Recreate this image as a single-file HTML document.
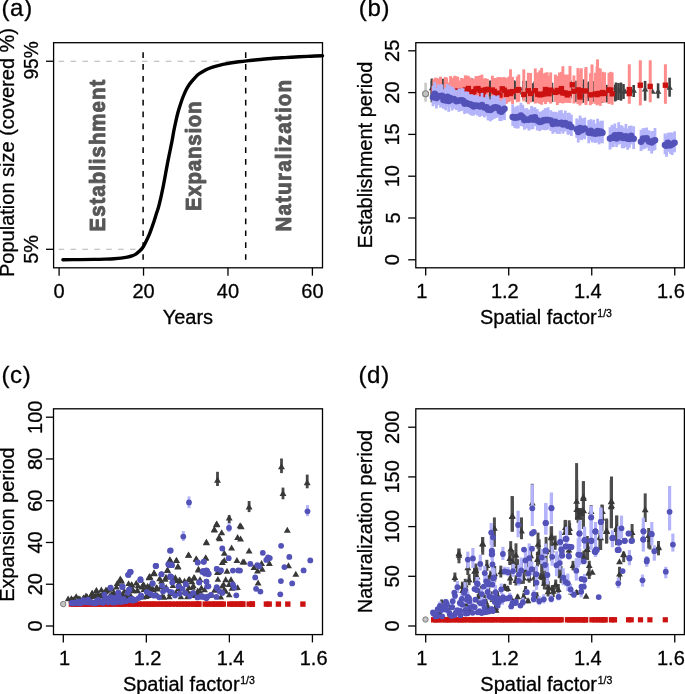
<!DOCTYPE html>
<html><head><meta charset="utf-8"><style>html,body{margin:0;padding:0;background:#fff;width:685px;height:694px;overflow:hidden}svg{display:block;will-change:transform}text{font-family:"Liberation Sans",sans-serif}</style></head>
<body><svg width="685" height="694" viewBox="0 0 685 694" font-family="Liberation Sans, sans-serif"><line x1="58.6" y1="61.26" x2="245.07" y2="61.26" stroke="#b4b4b4" stroke-width="1.1" stroke-linecap="butt" stroke-dasharray="5.6 6.3"/>
<line x1="58.6" y1="249.3" x2="143.11" y2="249.3" stroke="#b4b4b4" stroke-width="1.1" stroke-linecap="butt" stroke-dasharray="5.6 6.3"/>
<line x1="143.11" y1="52.2" x2="143.11" y2="260.2" stroke="#000" stroke-width="1.5" stroke-linecap="butt" stroke-dasharray="5.7 6.18"/>
<line x1="245.7" y1="52.2" x2="245.7" y2="260.2" stroke="#000" stroke-width="1.5" stroke-linecap="butt" stroke-dasharray="5.7 6.18"/>
<path d="M62.9,259.7 C65.75,259.68 74.75,259.65 80,259.6 C85.25,259.55 90.23,259.48 94.4,259.4 C98.57,259.32 101.72,259.22 105,259.1 C108.28,258.98 111.43,258.87 114.1,258.7 C116.77,258.53 118.8,258.37 121,258.1 C123.2,257.83 125.47,257.47 127.3,257.1 C129.13,256.73 130.63,256.35 132,255.9 C133.37,255.45 134.33,255.12 135.5,254.4 C136.67,253.68 137.82,252.7 139,251.6 C140.18,250.5 141.43,249.48 142.6,247.8 C143.77,246.12 144.92,243.65 146,241.5 C147.08,239.35 148.15,237.15 149.1,234.9 C150.05,232.65 150.85,230.35 151.7,228 C152.55,225.65 153.37,223.33 154.2,220.8 C155.03,218.27 155.87,215.48 156.7,212.8 C157.53,210.12 158.12,209.08 159.2,204.7 C160.28,200.32 161.85,193.22 163.2,186.5 C164.55,179.78 166.2,170.15 167.3,164.4 C168.4,158.65 169,155.97 169.8,152 C170.6,148.03 171.43,144.1 172.1,140.6 C172.77,137.1 173.18,134.18 173.8,131 C174.42,127.82 175.13,124.5 175.8,121.5 C176.47,118.5 177.12,115.58 177.8,113 C178.48,110.42 179.03,108.67 179.9,106 C180.77,103.33 181.93,99.77 183,97 C184.07,94.23 185.22,91.53 186.3,89.4 C187.38,87.27 188.42,85.73 189.5,84.2 C190.58,82.67 191.72,81.47 192.8,80.2 C193.88,78.93 194.9,77.68 196,76.6 C197.1,75.52 197.73,74.85 199.4,73.7 C201.07,72.55 203.8,70.8 206,69.7 C208.2,68.6 210.43,67.83 212.6,67.1 C214.77,66.37 216.82,65.85 219,65.3 C221.18,64.75 222.4,64.38 225.7,63.8 C229,63.22 234.75,62.35 238.8,61.8 C242.85,61.25 246.47,60.88 250,60.5 C253.53,60.12 256.4,59.84 260,59.5 C263.6,59.16 267.43,58.77 271.6,58.45 C275.77,58.13 280.38,57.88 285,57.6 C289.62,57.33 294.97,57.03 299.3,56.8 C303.63,56.57 307.13,56.37 311,56.2 C314.87,56.03 320.58,55.87 322.5,55.8" fill="none" stroke="#000" stroke-width="3.4" stroke-linejoin="round" stroke-linecap="round"/>
<rect x="53.6" y="42.7" width="268.9" height="225.1" fill="none" stroke="#000" stroke-width="1.3"/>
<line x1="46" y1="249.3" x2="53.6" y2="249.3" stroke="#000" stroke-width="1.3" stroke-linecap="butt"/>
<line x1="46" y1="61.26" x2="53.6" y2="61.26" stroke="#000" stroke-width="1.3" stroke-linecap="butt"/>
<line x1="59.1" y1="267.8" x2="59.1" y2="275.7" stroke="#000" stroke-width="1.3" stroke-linecap="butt"/>
<line x1="143.53" y1="267.8" x2="143.53" y2="275.7" stroke="#000" stroke-width="1.3" stroke-linecap="butt"/>
<line x1="227.97" y1="267.8" x2="227.97" y2="275.7" stroke="#000" stroke-width="1.3" stroke-linecap="butt"/>
<line x1="312.4" y1="267.8" x2="312.4" y2="275.7" stroke="#000" stroke-width="1.3" stroke-linecap="butt"/>
<text x="59.1" y="298.2" font-size="20" text-anchor="middle" font-weight="normal" fill="#000" stroke="#000" stroke-width="0.3">0</text>
<text x="143.53" y="298.2" font-size="20" text-anchor="middle" font-weight="normal" fill="#000" stroke="#000" stroke-width="0.3">20</text>
<text x="227.97" y="298.2" font-size="20" text-anchor="middle" font-weight="normal" fill="#000" stroke="#000" stroke-width="0.3">40</text>
<text x="312.4" y="298.2" font-size="20" text-anchor="middle" font-weight="normal" fill="#000" stroke="#000" stroke-width="0.3">60</text>
<text x="187.9" y="323.6" font-size="20" text-anchor="middle" font-weight="normal" fill="#000" stroke="#000" stroke-width="0.3">Years</text>
<text x="38.2" y="60.36" font-size="20" text-anchor="middle" font-weight="normal" fill="#000" transform="rotate(-90 38.2 60.36)" textLength="38.4" lengthAdjust="spacingAndGlyphs" stroke="#000" stroke-width="0.3">95%</text>
<text x="38.2" y="249.3" font-size="20" text-anchor="middle" font-weight="normal" fill="#000" transform="rotate(-90 38.2 249.3)" stroke="#000" stroke-width="0.3">5%</text>
<text x="14.4" y="152.5" font-size="20" text-anchor="middle" font-weight="normal" fill="#000" transform="rotate(-90 14.4 152.5)" stroke="#000" stroke-width="0.3">Population size (covered %)</text>
<text x="1.4" y="15.7" font-size="24" letter-spacing="0.7" stroke="#000" stroke-width="0.3">(a)</text>
<text x="0" y="0" font-size="22" font-weight="bold" fill="#575757" transform="translate(104.6 231.4) rotate(-90) scale(0.93 1)" textLength="163.01" lengthAdjust="spacing" stroke="#575757" stroke-width="0.9" stroke-linejoin="round">Establishment</text>
<text x="0" y="0" font-size="22" font-weight="bold" fill="#575757" transform="translate(200.6 210.9) rotate(-90) scale(0.93 1)" textLength="117.74" lengthAdjust="spacing" stroke="#575757" stroke-width="0.9" stroke-linejoin="round">Expansion</text>
<text x="0" y="0" font-size="22" font-weight="bold" fill="#575757" transform="translate(291.4 231.5) rotate(-90) scale(0.93 1)" textLength="163.01" lengthAdjust="spacing" stroke="#575757" stroke-width="0.9" stroke-linejoin="round">Naturalization</text>
<line x1="425.6" y1="82.7" x2="425.6" y2="101.7" stroke="#c8c8c8" stroke-width="2.6"/>
<circle cx="425.6" cy="93.7" r="3.0" fill="#c4c4c4" stroke="#808080" stroke-width="1.1"/>
<line x1="431.8" y1="78.53" x2="431.8" y2="98.49" stroke="#404040" stroke-width="2.4"/>
<line x1="435.86" y1="83.11" x2="435.86" y2="103.81" stroke="#404040" stroke-width="2.4"/>
<line x1="439.15" y1="83.07" x2="439.15" y2="101.93" stroke="#404040" stroke-width="2.4"/>
<line x1="443.24" y1="78.7" x2="443.24" y2="99.44" stroke="#404040" stroke-width="2.4"/>
<line x1="446.29" y1="79.59" x2="446.29" y2="100.4" stroke="#404040" stroke-width="2.4"/>
<line x1="450.35" y1="84.64" x2="450.35" y2="103.02" stroke="#404040" stroke-width="2.4"/>
<line x1="455.3" y1="79.57" x2="455.3" y2="101.25" stroke="#404040" stroke-width="2.4"/>
<line x1="460.03" y1="83.84" x2="460.03" y2="100.86" stroke="#404040" stroke-width="2.4"/>
<line x1="464.42" y1="80.31" x2="464.42" y2="97.22" stroke="#404040" stroke-width="2.4"/>
<line x1="467.94" y1="83.01" x2="467.94" y2="103.85" stroke="#404040" stroke-width="2.4"/>
<line x1="471.68" y1="78.4" x2="471.68" y2="99.36" stroke="#404040" stroke-width="2.4"/>
<line x1="475.01" y1="83.91" x2="475.01" y2="103.85" stroke="#404040" stroke-width="2.4"/>
<line x1="479.56" y1="80.46" x2="479.56" y2="99.75" stroke="#404040" stroke-width="2.4"/>
<line x1="483.62" y1="80.74" x2="483.62" y2="96.83" stroke="#404040" stroke-width="2.4"/>
<line x1="488.18" y1="83.88" x2="488.18" y2="103.77" stroke="#404040" stroke-width="2.4"/>
<line x1="491.84" y1="80.36" x2="491.84" y2="101.96" stroke="#404040" stroke-width="2.4"/>
<line x1="495.28" y1="79.99" x2="495.28" y2="101.22" stroke="#404040" stroke-width="2.4"/>
<line x1="499.91" y1="84.32" x2="499.91" y2="101.59" stroke="#404040" stroke-width="2.4"/>
<line x1="504.88" y1="80.63" x2="504.88" y2="98.39" stroke="#404040" stroke-width="2.4"/>
<line x1="509.58" y1="79.68" x2="509.58" y2="99.2" stroke="#404040" stroke-width="2.4"/>
<line x1="514.2" y1="80.3" x2="514.2" y2="98.81" stroke="#404040" stroke-width="2.4"/>
<line x1="518.83" y1="78.06" x2="518.83" y2="99.52" stroke="#404040" stroke-width="2.4"/>
<line x1="523.31" y1="80.75" x2="523.31" y2="99.5" stroke="#404040" stroke-width="2.4"/>
<line x1="526.76" y1="80.79" x2="526.76" y2="102.21" stroke="#404040" stroke-width="2.4"/>
<line x1="530.8" y1="79.77" x2="530.8" y2="101.28" stroke="#404040" stroke-width="2.4"/>
<line x1="534.51" y1="81.41" x2="534.51" y2="100.61" stroke="#404040" stroke-width="2.4"/>
<line x1="537.57" y1="83.08" x2="537.57" y2="99.2" stroke="#404040" stroke-width="2.4"/>
<line x1="540.63" y1="82.09" x2="540.63" y2="99.19" stroke="#404040" stroke-width="2.4"/>
<line x1="544.18" y1="77.63" x2="544.18" y2="98.42" stroke="#404040" stroke-width="2.4"/>
<line x1="547.7" y1="79.61" x2="547.7" y2="98.45" stroke="#404040" stroke-width="2.4"/>
<line x1="552.09" y1="82.68" x2="552.09" y2="102.02" stroke="#404040" stroke-width="2.4"/>
<line x1="557" y1="80.4" x2="557" y2="99.51" stroke="#404040" stroke-width="2.4"/>
<line x1="560.89" y1="80.98" x2="560.89" y2="101.69" stroke="#404040" stroke-width="2.4"/>
<line x1="565.77" y1="78.96" x2="565.77" y2="98.32" stroke="#404040" stroke-width="2.4"/>
<line x1="570.74" y1="80.66" x2="570.74" y2="98.32" stroke="#404040" stroke-width="2.4"/>
<line x1="575.65" y1="83.11" x2="575.65" y2="102.16" stroke="#404040" stroke-width="2.4"/>
<line x1="579.38" y1="81.09" x2="579.38" y2="101.65" stroke="#404040" stroke-width="2.4"/>
<line x1="582.83" y1="84.15" x2="582.83" y2="102.8" stroke="#404040" stroke-width="2.4"/>
<line x1="586.28" y1="82.16" x2="586.28" y2="101.19" stroke="#404040" stroke-width="2.4"/>
<line x1="589.67" y1="80.99" x2="589.67" y2="101.15" stroke="#404040" stroke-width="2.4"/>
<line x1="593.08" y1="81.11" x2="593.08" y2="100.31" stroke="#404040" stroke-width="2.4"/>
<line x1="597.33" y1="80.04" x2="597.33" y2="101.69" stroke="#404040" stroke-width="2.4"/>
<line x1="602.13" y1="81.57" x2="602.13" y2="102.82" stroke="#404040" stroke-width="2.4"/>
<line x1="606.81" y1="84.87" x2="606.81" y2="102.43" stroke="#404040" stroke-width="2.4"/>
<line x1="610.77" y1="80.53" x2="610.77" y2="102.19" stroke="#404040" stroke-width="2.4"/>
<line x1="615.08" y1="84.63" x2="615.08" y2="101.45" stroke="#404040" stroke-width="2.4"/>
<line x1="442.84" y1="82.48" x2="442.84" y2="98.73" stroke="#404040" stroke-width="2.2"/>
<line x1="489.93" y1="80.54" x2="489.93" y2="102.27" stroke="#404040" stroke-width="2.2"/>
<line x1="514.93" y1="81.22" x2="514.93" y2="99.44" stroke="#404040" stroke-width="2.2"/>
<line x1="532.94" y1="83.22" x2="532.94" y2="101.76" stroke="#404040" stroke-width="2.2"/>
<line x1="576.11" y1="80.66" x2="576.11" y2="99.08" stroke="#404040" stroke-width="2.2"/>
<line x1="583.52" y1="79.39" x2="583.52" y2="97.35" stroke="#404040" stroke-width="2.2"/>
<line x1="588.05" y1="82.69" x2="588.05" y2="99.09" stroke="#404040" stroke-width="2.2"/>
<line x1="592.91" y1="82.79" x2="592.91" y2="101.99" stroke="#404040" stroke-width="2.2"/>
<path d="M428.8,90.36L434.8,90.36L431.8,85.16Z" fill="#404040"/>
<path d="M432.86,91.33L438.86,91.33L435.86,86.13Z" fill="#404040"/>
<path d="M436.15,89.97L442.15,89.97L439.15,84.77Z" fill="#404040"/>
<path d="M440.24,94.41L446.24,94.41L443.24,89.21Z" fill="#404040"/>
<path d="M443.29,91.35L449.29,91.35L446.29,86.16Z" fill="#404040"/>
<path d="M447.35,90.51L453.35,90.51L450.35,85.31Z" fill="#404040"/>
<path d="M452.3,92.27L458.3,92.27L455.3,87.07Z" fill="#404040"/>
<path d="M457.03,95.2L463.03,95.2L460.03,90Z" fill="#404040"/>
<path d="M461.42,94.65L467.42,94.65L464.42,89.45Z" fill="#404040"/>
<path d="M464.94,91.28L470.94,91.28L467.94,86.09Z" fill="#404040"/>
<path d="M468.68,90.63L474.68,90.63L471.68,85.43Z" fill="#404040"/>
<path d="M472.01,95.25L478.01,95.25L475.01,90.05Z" fill="#404040"/>
<path d="M476.56,93.16L482.56,93.16L479.56,87.96Z" fill="#404040"/>
<path d="M480.62,93.93L486.62,93.93L483.62,88.74Z" fill="#404040"/>
<path d="M485.18,90.27L491.18,90.27L488.18,85.07Z" fill="#404040"/>
<path d="M488.84,90.08L494.84,90.08L491.84,84.88Z" fill="#404040"/>
<path d="M492.28,93.86L498.28,93.86L495.28,88.67Z" fill="#404040"/>
<path d="M496.91,92.28L502.91,92.28L499.91,87.09Z" fill="#404040"/>
<path d="M501.88,90.17L507.88,90.17L504.88,84.97Z" fill="#404040"/>
<path d="M506.58,95.36L512.58,95.36L509.58,90.17Z" fill="#404040"/>
<path d="M511.2,93.54L517.2,93.54L514.2,88.34Z" fill="#404040"/>
<path d="M515.83,94.54L521.83,94.54L518.83,89.35Z" fill="#404040"/>
<path d="M520.31,90.23L526.31,90.23L523.31,85.04Z" fill="#404040"/>
<path d="M523.76,94.87L529.76,94.87L526.76,89.67Z" fill="#404040"/>
<path d="M527.8,90.13L533.8,90.13L530.8,84.94Z" fill="#404040"/>
<path d="M531.51,94.91L537.51,94.91L534.51,89.71Z" fill="#404040"/>
<path d="M534.57,92.45L540.57,92.45L537.57,87.26Z" fill="#404040"/>
<path d="M537.63,91.77L543.63,91.77L540.63,86.57Z" fill="#404040"/>
<path d="M541.18,93.05L547.18,93.05L544.18,87.85Z" fill="#404040"/>
<path d="M544.7,95.29L550.7,95.29L547.7,90.1Z" fill="#404040"/>
<path d="M549.09,91.34L555.09,91.34L552.09,86.14Z" fill="#404040"/>
<path d="M554,90.51L560,90.51L557,85.31Z" fill="#404040"/>
<path d="M557.89,92.89L563.89,92.89L560.89,87.7Z" fill="#404040"/>
<path d="M562.77,91.16L568.77,91.16L565.77,85.97Z" fill="#404040"/>
<path d="M567.74,90.39L573.74,90.39L570.74,85.19Z" fill="#404040"/>
<path d="M572.65,90.7L578.65,90.7L575.65,85.5Z" fill="#404040"/>
<path d="M576.38,90.03L582.38,90.03L579.38,84.84Z" fill="#404040"/>
<path d="M579.83,90.94L585.83,90.94L582.83,85.75Z" fill="#404040"/>
<path d="M583.28,91.6L589.28,91.6L586.28,86.41Z" fill="#404040"/>
<path d="M586.67,91.56L592.67,91.56L589.67,86.37Z" fill="#404040"/>
<path d="M590.08,94.29L596.08,94.29L593.08,89.09Z" fill="#404040"/>
<path d="M594.33,91.47L600.33,91.47L597.33,86.28Z" fill="#404040"/>
<path d="M599.13,92.73L605.13,92.73L602.13,87.54Z" fill="#404040"/>
<path d="M603.81,90.8L609.81,90.8L606.81,85.6Z" fill="#404040"/>
<path d="M607.77,91.81L613.77,91.81L610.77,86.62Z" fill="#404040"/>
<path d="M612.08,89.84L618.08,89.84L615.08,84.64Z" fill="#404040"/>
<line x1="431.9" y1="81" x2="431.9" y2="102.3" stroke="#404040" stroke-width="2.6"/>
<line x1="564.4" y1="82" x2="564.4" y2="100" stroke="#404040" stroke-width="2.6"/>
<line x1="588.8" y1="82" x2="588.8" y2="101" stroke="#404040" stroke-width="2.6"/>
<line x1="616" y1="82.5" x2="616" y2="100.7" stroke="#404040" stroke-width="2.6"/>
<line x1="618.5" y1="83" x2="618.5" y2="100" stroke="#404040" stroke-width="2.6"/>
<line x1="621" y1="82.5" x2="621" y2="100.7" stroke="#404040" stroke-width="2.6"/>
<line x1="623.5" y1="84" x2="623.5" y2="99" stroke="#404040" stroke-width="2.6"/>
<line x1="645.1" y1="80.9" x2="645.1" y2="100.7" stroke="#404040" stroke-width="2.6"/>
<line x1="658.1" y1="83.3" x2="658.1" y2="98.3" stroke="#404040" stroke-width="2.6"/>
<line x1="669.6" y1="77.7" x2="669.6" y2="96.7" stroke="#404040" stroke-width="2.6"/>
<line x1="633.7" y1="85" x2="633.7" y2="97" stroke="#404040" stroke-width="2.6"/>
<path d="M630.5,92.75L636.9,92.75L633.7,87.21Z" fill="#404040"/>
<path d="M641.9,91.45L648.3,91.45L645.1,85.91Z" fill="#404040"/>
<path d="M649.3,93.85L655.7,93.85L652.5,88.31Z" fill="#404040"/>
<path d="M654.9,93.85L661.3,93.85L658.1,88.31Z" fill="#404040"/>
<path d="M666.4,89.85L672.8,89.85L669.6,84.31Z" fill="#404040"/>
<path d="M616.8,92.85L623.2,92.85L620,87.31Z" fill="#404040"/>
<path d="M621.8,93.85L628.2,93.85L625,88.31Z" fill="#404040"/>
<line x1="433.8" y1="79.21" x2="433.8" y2="98.76" stroke="#ff8c8c" stroke-width="2.9"/>
<line x1="435.35" y1="77.66" x2="435.35" y2="99.69" stroke="#ff8c8c" stroke-width="2.9"/>
<line x1="436.82" y1="77.96" x2="436.82" y2="100.66" stroke="#ff8c8c" stroke-width="2.9"/>
<line x1="438.59" y1="78.51" x2="438.59" y2="100.57" stroke="#ff8c8c" stroke-width="2.9"/>
<line x1="440.5" y1="76.64" x2="440.5" y2="98.69" stroke="#ff8c8c" stroke-width="2.9"/>
<line x1="445.19" y1="76.97" x2="445.19" y2="101.74" stroke="#ff8c8c" stroke-width="2.9"/>
<line x1="446.68" y1="77.63" x2="446.68" y2="99.32" stroke="#ff8c8c" stroke-width="2.9"/>
<line x1="448.9" y1="82.36" x2="448.9" y2="99.75" stroke="#ff8c8c" stroke-width="2.9"/>
<line x1="450.53" y1="76.06" x2="450.53" y2="100.64" stroke="#ff8c8c" stroke-width="2.9"/>
<line x1="452.88" y1="77.75" x2="452.88" y2="99.41" stroke="#ff8c8c" stroke-width="2.9"/>
<line x1="454.67" y1="75.75" x2="454.67" y2="101.24" stroke="#ff8c8c" stroke-width="2.9"/>
<line x1="456.12" y1="76.32" x2="456.12" y2="102.35" stroke="#ff8c8c" stroke-width="2.9"/>
<line x1="457.81" y1="76.8" x2="457.81" y2="101.89" stroke="#ff8c8c" stroke-width="2.9"/>
<line x1="459.33" y1="80.53" x2="459.33" y2="102.01" stroke="#ff8c8c" stroke-width="2.9"/>
<line x1="461.54" y1="77.97" x2="461.54" y2="102.37" stroke="#ff8c8c" stroke-width="2.9"/>
<line x1="463.52" y1="78.55" x2="463.52" y2="102.09" stroke="#ff8c8c" stroke-width="2.9"/>
<line x1="465.3" y1="75.36" x2="465.3" y2="102.68" stroke="#ff8c8c" stroke-width="2.9"/>
<line x1="466.76" y1="75.74" x2="466.76" y2="101.54" stroke="#ff8c8c" stroke-width="2.9"/>
<line x1="468.36" y1="75.83" x2="468.36" y2="101.79" stroke="#ff8c8c" stroke-width="2.9"/>
<line x1="470.19" y1="77.68" x2="470.19" y2="100.93" stroke="#ff8c8c" stroke-width="2.9"/>
<line x1="472.18" y1="79.09" x2="472.18" y2="101.37" stroke="#ff8c8c" stroke-width="2.9"/>
<line x1="473.88" y1="78.62" x2="473.88" y2="102.31" stroke="#ff8c8c" stroke-width="2.9"/>
<line x1="475.98" y1="76.09" x2="475.98" y2="102.07" stroke="#ff8c8c" stroke-width="2.9"/>
<line x1="477.95" y1="75.96" x2="477.95" y2="102.48" stroke="#ff8c8c" stroke-width="2.9"/>
<line x1="480.23" y1="75.48" x2="480.23" y2="100.56" stroke="#ff8c8c" stroke-width="2.9"/>
<line x1="481.91" y1="74.63" x2="481.91" y2="103.04" stroke="#ff8c8c" stroke-width="2.9"/>
<line x1="483.43" y1="78.54" x2="483.43" y2="103.5" stroke="#ff8c8c" stroke-width="2.9"/>
<line x1="485.59" y1="78.23" x2="485.59" y2="103.56" stroke="#ff8c8c" stroke-width="2.9"/>
<line x1="487.48" y1="78.91" x2="487.48" y2="102.71" stroke="#ff8c8c" stroke-width="2.9"/>
<line x1="492.38" y1="75.71" x2="492.38" y2="102.04" stroke="#ff8c8c" stroke-width="2.9"/>
<line x1="494.35" y1="77.98" x2="494.35" y2="101.45" stroke="#ff8c8c" stroke-width="2.9"/>
<line x1="496.07" y1="78.19" x2="496.07" y2="103.61" stroke="#ff8c8c" stroke-width="2.9"/>
<line x1="498.06" y1="77.03" x2="498.06" y2="101.78" stroke="#ff8c8c" stroke-width="2.9"/>
<line x1="499.92" y1="77.12" x2="499.92" y2="101.39" stroke="#ff8c8c" stroke-width="2.9"/>
<line x1="502.26" y1="77.32" x2="502.26" y2="101.33" stroke="#ff8c8c" stroke-width="2.9"/>
<line x1="504.33" y1="77.07" x2="504.33" y2="103.84" stroke="#ff8c8c" stroke-width="2.9"/>
<line x1="506.43" y1="77.85" x2="506.43" y2="103.83" stroke="#ff8c8c" stroke-width="2.9"/>
<line x1="508.82" y1="76.54" x2="508.82" y2="102.18" stroke="#ff8c8c" stroke-width="2.9"/>
<line x1="510.51" y1="69.28" x2="510.51" y2="101.1" stroke="#ff8c8c" stroke-width="2.9"/>
<line x1="512.57" y1="76.81" x2="512.57" y2="104.12" stroke="#ff8c8c" stroke-width="2.9"/>
<line x1="517.29" y1="76.54" x2="517.29" y2="102.22" stroke="#ff8c8c" stroke-width="2.9"/>
<line x1="518.81" y1="74.52" x2="518.81" y2="101.65" stroke="#ff8c8c" stroke-width="2.9"/>
<line x1="523.8" y1="69.35" x2="523.8" y2="101.33" stroke="#ff8c8c" stroke-width="2.9"/>
<line x1="528.32" y1="72.81" x2="528.32" y2="104.24" stroke="#ff8c8c" stroke-width="2.9"/>
<line x1="530.59" y1="72.99" x2="530.59" y2="102.52" stroke="#ff8c8c" stroke-width="2.9"/>
<line x1="535.3" y1="68.49" x2="535.3" y2="103.53" stroke="#ff8c8c" stroke-width="2.9"/>
<line x1="537.58" y1="72.4" x2="537.58" y2="102.95" stroke="#ff8c8c" stroke-width="2.9"/>
<line x1="539.84" y1="70.35" x2="539.84" y2="103.93" stroke="#ff8c8c" stroke-width="2.9"/>
<line x1="541.66" y1="67.87" x2="541.66" y2="104.74" stroke="#ff8c8c" stroke-width="2.9"/>
<line x1="543.94" y1="73.46" x2="543.94" y2="101.94" stroke="#ff8c8c" stroke-width="2.9"/>
<line x1="545.49" y1="72.79" x2="545.49" y2="104.13" stroke="#ff8c8c" stroke-width="2.9"/>
<line x1="547.13" y1="72.24" x2="547.13" y2="101.79" stroke="#ff8c8c" stroke-width="2.9"/>
<line x1="549.01" y1="75.75" x2="549.01" y2="102.15" stroke="#ff8c8c" stroke-width="2.9"/>
<line x1="550.67" y1="72.4" x2="550.67" y2="103.58" stroke="#ff8c8c" stroke-width="2.9"/>
<line x1="555.35" y1="74.53" x2="555.35" y2="101.91" stroke="#ff8c8c" stroke-width="2.9"/>
<line x1="557.32" y1="75.92" x2="557.32" y2="105.02" stroke="#ff8c8c" stroke-width="2.9"/>
<line x1="559.41" y1="72.48" x2="559.41" y2="103.06" stroke="#ff8c8c" stroke-width="2.9"/>
<line x1="561.43" y1="71.83" x2="561.43" y2="102.92" stroke="#ff8c8c" stroke-width="2.9"/>
<line x1="562.88" y1="66.18" x2="562.88" y2="103.51" stroke="#ff8c8c" stroke-width="2.9"/>
<line x1="565.06" y1="74.56" x2="565.06" y2="102.78" stroke="#ff8c8c" stroke-width="2.9"/>
<line x1="567.26" y1="74.63" x2="567.26" y2="102.86" stroke="#ff8c8c" stroke-width="2.9"/>
<line x1="569.06" y1="74.68" x2="569.06" y2="102.89" stroke="#ff8c8c" stroke-width="2.9"/>
<line x1="573.93" y1="75.39" x2="573.93" y2="103.55" stroke="#ff8c8c" stroke-width="2.9"/>
<line x1="578.29" y1="70.3" x2="578.29" y2="103.6" stroke="#ff8c8c" stroke-width="2.9"/>
<line x1="579.85" y1="74.72" x2="579.85" y2="105.5" stroke="#ff8c8c" stroke-width="2.9"/>
<line x1="581.3" y1="68.29" x2="581.3" y2="103.59" stroke="#ff8c8c" stroke-width="2.9"/>
<line x1="585.74" y1="68.88" x2="585.74" y2="103.55" stroke="#ff8c8c" stroke-width="2.9"/>
<line x1="590.37" y1="73.31" x2="590.37" y2="105.25" stroke="#ff8c8c" stroke-width="2.9"/>
<line x1="595.45" y1="72.79" x2="595.45" y2="103.74" stroke="#ff8c8c" stroke-width="2.9"/>
<line x1="597" y1="66.37" x2="597" y2="105.3" stroke="#ff8c8c" stroke-width="2.9"/>
<line x1="598.75" y1="68.04" x2="598.75" y2="103.38" stroke="#ff8c8c" stroke-width="2.9"/>
<line x1="600.27" y1="68.53" x2="600.27" y2="105.85" stroke="#ff8c8c" stroke-width="2.9"/>
<line x1="602.66" y1="71.79" x2="602.66" y2="102.54" stroke="#ff8c8c" stroke-width="2.9"/>
<line x1="604.55" y1="72.35" x2="604.55" y2="102.63" stroke="#ff8c8c" stroke-width="2.9"/>
<line x1="608.94" y1="72.82" x2="608.94" y2="103.95" stroke="#ff8c8c" stroke-width="2.9"/>
<line x1="610.61" y1="71.83" x2="610.61" y2="103.26" stroke="#ff8c8c" stroke-width="2.9"/>
<line x1="612.17" y1="72.42" x2="612.17" y2="104.77" stroke="#ff8c8c" stroke-width="2.9"/>
<line x1="629.3" y1="64.3" x2="629.3" y2="103.8" stroke="#ff8c8c" stroke-width="3.0"/>
<line x1="640.3" y1="60.3" x2="640.3" y2="105.4" stroke="#ff8c8c" stroke-width="3.0"/>
<line x1="650.2" y1="60.3" x2="650.2" y2="102.3" stroke="#ff8c8c" stroke-width="3.0"/>
<line x1="665.4" y1="64.3" x2="665.4" y2="103.8" stroke="#ff8c8c" stroke-width="3.0"/>
<line x1="597.5" y1="59.4" x2="597.5" y2="104" stroke="#ff8c8c" stroke-width="3.0"/>
<line x1="592" y1="64.4" x2="592" y2="104" stroke="#ff8c8c" stroke-width="3.0"/>
<line x1="570" y1="66" x2="570" y2="103" stroke="#ff8c8c" stroke-width="3.0"/>
<line x1="578" y1="68" x2="578" y2="104" stroke="#ff8c8c" stroke-width="3.0"/>
<line x1="586" y1="67" x2="586" y2="105" stroke="#ff8c8c" stroke-width="3.0"/>
<rect x="431.1" y="87.45" width="5.4" height="5.4" fill="#cc1111"/>
<rect x="432.65" y="88.93" width="5.4" height="5.4" fill="#cc1111"/>
<rect x="434.12" y="89.07" width="5.4" height="5.4" fill="#cc1111"/>
<rect x="435.89" y="92.28" width="5.4" height="5.4" fill="#cc1111"/>
<rect x="437.8" y="88.47" width="5.4" height="5.4" fill="#cc1111"/>
<rect x="442.49" y="90.69" width="5.4" height="5.4" fill="#cc1111"/>
<rect x="443.98" y="90.23" width="5.4" height="5.4" fill="#cc1111"/>
<rect x="446.2" y="88.74" width="5.4" height="5.4" fill="#cc1111"/>
<rect x="447.83" y="92.17" width="5.4" height="5.4" fill="#cc1111"/>
<rect x="450.18" y="89.12" width="5.4" height="5.4" fill="#cc1111"/>
<rect x="451.97" y="88.44" width="5.4" height="5.4" fill="#cc1111"/>
<rect x="453.42" y="89.29" width="5.4" height="5.4" fill="#cc1111"/>
<rect x="455.11" y="88.37" width="5.4" height="5.4" fill="#cc1111"/>
<rect x="456.63" y="90.05" width="5.4" height="5.4" fill="#cc1111"/>
<rect x="458.84" y="91.16" width="5.4" height="5.4" fill="#cc1111"/>
<rect x="460.82" y="91.25" width="5.4" height="5.4" fill="#cc1111"/>
<rect x="462.6" y="87.32" width="5.4" height="5.4" fill="#cc1111"/>
<rect x="464.06" y="89.49" width="5.4" height="5.4" fill="#cc1111"/>
<rect x="465.66" y="85.82" width="5.4" height="5.4" fill="#cc1111"/>
<rect x="467.49" y="90.15" width="5.4" height="5.4" fill="#cc1111"/>
<rect x="469.48" y="90.61" width="5.4" height="5.4" fill="#cc1111"/>
<rect x="471.18" y="88.96" width="5.4" height="5.4" fill="#cc1111"/>
<rect x="473.28" y="86.31" width="5.4" height="5.4" fill="#cc1111"/>
<rect x="475.25" y="85.88" width="5.4" height="5.4" fill="#cc1111"/>
<rect x="477.53" y="87.72" width="5.4" height="5.4" fill="#cc1111"/>
<rect x="479.21" y="91.7" width="5.4" height="5.4" fill="#cc1111"/>
<rect x="480.73" y="92.19" width="5.4" height="5.4" fill="#cc1111"/>
<rect x="482.89" y="87.19" width="5.4" height="5.4" fill="#cc1111"/>
<rect x="484.78" y="86.68" width="5.4" height="5.4" fill="#cc1111"/>
<rect x="489.68" y="87.33" width="5.4" height="5.4" fill="#cc1111"/>
<rect x="491.65" y="88.78" width="5.4" height="5.4" fill="#cc1111"/>
<rect x="493.37" y="91.35" width="5.4" height="5.4" fill="#cc1111"/>
<rect x="495.36" y="90.51" width="5.4" height="5.4" fill="#cc1111"/>
<rect x="497.22" y="92.39" width="5.4" height="5.4" fill="#cc1111"/>
<rect x="499.56" y="86.12" width="5.4" height="5.4" fill="#cc1111"/>
<rect x="501.63" y="87.55" width="5.4" height="5.4" fill="#cc1111"/>
<rect x="503.73" y="91.64" width="5.4" height="5.4" fill="#cc1111"/>
<rect x="506.12" y="89.42" width="5.4" height="5.4" fill="#cc1111"/>
<rect x="507.81" y="90.77" width="5.4" height="5.4" fill="#cc1111"/>
<rect x="509.87" y="88.92" width="5.4" height="5.4" fill="#cc1111"/>
<rect x="514.59" y="87.52" width="5.4" height="5.4" fill="#cc1111"/>
<rect x="516.11" y="86.9" width="5.4" height="5.4" fill="#cc1111"/>
<rect x="521.1" y="91.78" width="5.4" height="5.4" fill="#cc1111"/>
<rect x="525.62" y="88.06" width="5.4" height="5.4" fill="#cc1111"/>
<rect x="527.89" y="90.75" width="5.4" height="5.4" fill="#cc1111"/>
<rect x="532.6" y="88.03" width="5.4" height="5.4" fill="#cc1111"/>
<rect x="534.88" y="91.49" width="5.4" height="5.4" fill="#cc1111"/>
<rect x="537.14" y="92.1" width="5.4" height="5.4" fill="#cc1111"/>
<rect x="538.96" y="91.71" width="5.4" height="5.4" fill="#cc1111"/>
<rect x="541.24" y="91.25" width="5.4" height="5.4" fill="#cc1111"/>
<rect x="542.79" y="86.82" width="5.4" height="5.4" fill="#cc1111"/>
<rect x="544.43" y="90.07" width="5.4" height="5.4" fill="#cc1111"/>
<rect x="546.31" y="90.96" width="5.4" height="5.4" fill="#cc1111"/>
<rect x="547.97" y="87.46" width="5.4" height="5.4" fill="#cc1111"/>
<rect x="552.65" y="89.65" width="5.4" height="5.4" fill="#cc1111"/>
<rect x="554.62" y="87.79" width="5.4" height="5.4" fill="#cc1111"/>
<rect x="556.71" y="88.94" width="5.4" height="5.4" fill="#cc1111"/>
<rect x="558.73" y="85.94" width="5.4" height="5.4" fill="#cc1111"/>
<rect x="560.18" y="90.2" width="5.4" height="5.4" fill="#cc1111"/>
<rect x="562.36" y="90.3" width="5.4" height="5.4" fill="#cc1111"/>
<rect x="564.56" y="92.2" width="5.4" height="5.4" fill="#cc1111"/>
<rect x="566.36" y="90.82" width="5.4" height="5.4" fill="#cc1111"/>
<rect x="571.23" y="88.55" width="5.4" height="5.4" fill="#cc1111"/>
<rect x="575.59" y="87.21" width="5.4" height="5.4" fill="#cc1111"/>
<rect x="577.15" y="91.73" width="5.4" height="5.4" fill="#cc1111"/>
<rect x="578.6" y="87.97" width="5.4" height="5.4" fill="#cc1111"/>
<rect x="583.04" y="88.27" width="5.4" height="5.4" fill="#cc1111"/>
<rect x="587.67" y="92.11" width="5.4" height="5.4" fill="#cc1111"/>
<rect x="592.75" y="91.23" width="5.4" height="5.4" fill="#cc1111"/>
<rect x="594.3" y="91.87" width="5.4" height="5.4" fill="#cc1111"/>
<rect x="596.05" y="90.86" width="5.4" height="5.4" fill="#cc1111"/>
<rect x="597.57" y="90.73" width="5.4" height="5.4" fill="#cc1111"/>
<rect x="599.96" y="89.87" width="5.4" height="5.4" fill="#cc1111"/>
<rect x="601.85" y="90.79" width="5.4" height="5.4" fill="#cc1111"/>
<rect x="606.24" y="87.34" width="5.4" height="5.4" fill="#cc1111"/>
<rect x="607.91" y="87.46" width="5.4" height="5.4" fill="#cc1111"/>
<rect x="609.47" y="91.1" width="5.4" height="5.4" fill="#cc1111"/>
<rect x="569.6" y="82.1" width="5.4" height="5.4" fill="#cc1111"/>
<rect x="577.3" y="94.3" width="5.4" height="5.4" fill="#cc1111"/>
<rect x="626.6" y="86.9" width="5.4" height="5.4" fill="#cc1111"/>
<rect x="626.6" y="90.9" width="5.4" height="5.4" fill="#cc1111"/>
<rect x="637.6" y="82.5" width="5.4" height="5.4" fill="#cc1111"/>
<rect x="647.5" y="83.7" width="5.4" height="5.4" fill="#cc1111"/>
<rect x="662.7" y="82.5" width="5.4" height="5.4" fill="#cc1111"/>
<rect x="462.3" y="93.3" width="5.4" height="5.4" fill="#cc1111"/>
<line x1="433" y1="85.8" x2="433" y2="106.17" stroke="#b4b4fb" stroke-width="2.8"/>
<line x1="434.73" y1="82.11" x2="434.73" y2="104.18" stroke="#b4b4fb" stroke-width="2.8"/>
<line x1="436.44" y1="87.83" x2="436.44" y2="108.46" stroke="#b4b4fb" stroke-width="2.8"/>
<line x1="438.21" y1="84.61" x2="438.21" y2="105.07" stroke="#b4b4fb" stroke-width="2.8"/>
<line x1="440.53" y1="84.71" x2="440.53" y2="107.55" stroke="#b4b4fb" stroke-width="2.8"/>
<line x1="441.93" y1="84.36" x2="441.93" y2="106.74" stroke="#b4b4fb" stroke-width="2.8"/>
<line x1="443.49" y1="89.37" x2="443.49" y2="108.84" stroke="#b4b4fb" stroke-width="2.8"/>
<line x1="445.77" y1="87.45" x2="445.77" y2="110.33" stroke="#b4b4fb" stroke-width="2.8"/>
<line x1="447.39" y1="84.06" x2="447.39" y2="106.5" stroke="#b4b4fb" stroke-width="2.8"/>
<line x1="448.77" y1="89.04" x2="448.77" y2="111.87" stroke="#b4b4fb" stroke-width="2.8"/>
<line x1="450.12" y1="85.58" x2="450.12" y2="107.1" stroke="#b4b4fb" stroke-width="2.8"/>
<line x1="452.13" y1="87" x2="452.13" y2="110.52" stroke="#b4b4fb" stroke-width="2.8"/>
<line x1="453.86" y1="88.35" x2="453.86" y2="108.71" stroke="#b4b4fb" stroke-width="2.8"/>
<line x1="456.43" y1="90" x2="456.43" y2="110.02" stroke="#b4b4fb" stroke-width="2.8"/>
<line x1="458.88" y1="88.42" x2="458.88" y2="111.79" stroke="#b4b4fb" stroke-width="2.8"/>
<line x1="461.47" y1="88.67" x2="461.47" y2="111.13" stroke="#b4b4fb" stroke-width="2.8"/>
<line x1="463.11" y1="88.26" x2="463.11" y2="109.63" stroke="#b4b4fb" stroke-width="2.8"/>
<line x1="464.52" y1="91.96" x2="464.52" y2="113.99" stroke="#b4b4fb" stroke-width="2.8"/>
<line x1="465.94" y1="91.43" x2="465.94" y2="112.94" stroke="#b4b4fb" stroke-width="2.8"/>
<line x1="467.89" y1="91.75" x2="467.89" y2="113.57" stroke="#b4b4fb" stroke-width="2.8"/>
<line x1="470.12" y1="94.28" x2="470.12" y2="114.71" stroke="#b4b4fb" stroke-width="2.8"/>
<line x1="472" y1="94.24" x2="472" y2="115.73" stroke="#b4b4fb" stroke-width="2.8"/>
<line x1="473.6" y1="95.16" x2="473.6" y2="115.57" stroke="#b4b4fb" stroke-width="2.8"/>
<line x1="475.44" y1="95.22" x2="475.44" y2="114.43" stroke="#b4b4fb" stroke-width="2.8"/>
<line x1="477.55" y1="95.49" x2="477.55" y2="115.59" stroke="#b4b4fb" stroke-width="2.8"/>
<line x1="479.73" y1="96.42" x2="479.73" y2="116.95" stroke="#b4b4fb" stroke-width="2.8"/>
<line x1="482" y1="92.9" x2="482" y2="115.93" stroke="#b4b4fb" stroke-width="2.8"/>
<line x1="484.4" y1="97.3" x2="484.4" y2="117.47" stroke="#b4b4fb" stroke-width="2.8"/>
<line x1="486.56" y1="94.44" x2="486.56" y2="116.2" stroke="#b4b4fb" stroke-width="2.8"/>
<line x1="488.02" y1="96.7" x2="488.02" y2="120.38" stroke="#b4b4fb" stroke-width="2.8"/>
<line x1="490.41" y1="99.35" x2="490.41" y2="121.38" stroke="#b4b4fb" stroke-width="2.8"/>
<line x1="492.1" y1="95.85" x2="492.1" y2="119.96" stroke="#b4b4fb" stroke-width="2.8"/>
<line x1="494.13" y1="95.16" x2="494.13" y2="118.81" stroke="#b4b4fb" stroke-width="2.8"/>
<line x1="495.92" y1="96.24" x2="495.92" y2="118.07" stroke="#b4b4fb" stroke-width="2.8"/>
<line x1="498.18" y1="95.29" x2="498.18" y2="117.3" stroke="#b4b4fb" stroke-width="2.8"/>
<line x1="499.74" y1="100.62" x2="499.74" y2="121.06" stroke="#b4b4fb" stroke-width="2.8"/>
<line x1="501.36" y1="101.08" x2="501.36" y2="121" stroke="#b4b4fb" stroke-width="2.8"/>
<line x1="502.98" y1="99.12" x2="502.98" y2="118.69" stroke="#b4b4fb" stroke-width="2.8"/>
<line x1="504.48" y1="98.35" x2="504.48" y2="120.14" stroke="#b4b4fb" stroke-width="2.8"/>
<line x1="512.7" y1="104.3" x2="512.7" y2="126" stroke="#b4b4fb" stroke-width="2.8"/>
<line x1="514.75" y1="107.41" x2="514.75" y2="127.85" stroke="#b4b4fb" stroke-width="2.8"/>
<line x1="516.48" y1="106.28" x2="516.48" y2="128.48" stroke="#b4b4fb" stroke-width="2.8"/>
<line x1="518.29" y1="105.53" x2="518.29" y2="128.42" stroke="#b4b4fb" stroke-width="2.8"/>
<line x1="520.88" y1="102.69" x2="520.88" y2="126.06" stroke="#b4b4fb" stroke-width="2.8"/>
<line x1="522.84" y1="104.84" x2="522.84" y2="126.53" stroke="#b4b4fb" stroke-width="2.8"/>
<line x1="524.44" y1="108.36" x2="524.44" y2="129.68" stroke="#b4b4fb" stroke-width="2.8"/>
<line x1="526.79" y1="108.12" x2="526.79" y2="128.48" stroke="#b4b4fb" stroke-width="2.8"/>
<line x1="528.94" y1="109.53" x2="528.94" y2="130.63" stroke="#b4b4fb" stroke-width="2.8"/>
<line x1="531.53" y1="105.98" x2="531.53" y2="129.35" stroke="#b4b4fb" stroke-width="2.8"/>
<line x1="532.96" y1="107.59" x2="532.96" y2="129.01" stroke="#b4b4fb" stroke-width="2.8"/>
<line x1="534.88" y1="107.19" x2="534.88" y2="126.24" stroke="#b4b4fb" stroke-width="2.8"/>
<line x1="537.24" y1="109.08" x2="537.24" y2="130.42" stroke="#b4b4fb" stroke-width="2.8"/>
<line x1="539.64" y1="111.6" x2="539.64" y2="131.18" stroke="#b4b4fb" stroke-width="2.8"/>
<line x1="542.13" y1="111.28" x2="542.13" y2="129.85" stroke="#b4b4fb" stroke-width="2.8"/>
<line x1="543.48" y1="109.93" x2="543.48" y2="129.82" stroke="#b4b4fb" stroke-width="2.8"/>
<line x1="545.16" y1="108.2" x2="545.16" y2="130.22" stroke="#b4b4fb" stroke-width="2.8"/>
<line x1="546.62" y1="108.23" x2="546.62" y2="130.03" stroke="#b4b4fb" stroke-width="2.8"/>
<line x1="548.16" y1="107.24" x2="548.16" y2="129.28" stroke="#b4b4fb" stroke-width="2.8"/>
<line x1="550.73" y1="110.25" x2="550.73" y2="130.95" stroke="#b4b4fb" stroke-width="2.8"/>
<line x1="552.79" y1="111.7" x2="552.79" y2="133.76" stroke="#b4b4fb" stroke-width="2.8"/>
<line x1="555.29" y1="111.76" x2="555.29" y2="132.23" stroke="#b4b4fb" stroke-width="2.8"/>
<line x1="557.08" y1="112.34" x2="557.08" y2="133.83" stroke="#b4b4fb" stroke-width="2.8"/>
<line x1="559.5" y1="110.46" x2="559.5" y2="133.97" stroke="#b4b4fb" stroke-width="2.8"/>
<line x1="561.39" y1="110.12" x2="561.39" y2="131.47" stroke="#b4b4fb" stroke-width="2.8"/>
<line x1="563.03" y1="113.27" x2="563.03" y2="133.7" stroke="#b4b4fb" stroke-width="2.8"/>
<line x1="565.34" y1="110.63" x2="565.34" y2="131.51" stroke="#b4b4fb" stroke-width="2.8"/>
<line x1="567.87" y1="112.94" x2="567.87" y2="134.69" stroke="#b4b4fb" stroke-width="2.8"/>
<line x1="569.3" y1="112.74" x2="569.3" y2="134.59" stroke="#b4b4fb" stroke-width="2.8"/>
<line x1="571.38" y1="114.58" x2="571.38" y2="136.05" stroke="#b4b4fb" stroke-width="2.8"/>
<line x1="576.7" y1="118.36" x2="576.7" y2="137.91" stroke="#b4b4fb" stroke-width="2.8"/>
<line x1="578.28" y1="119.54" x2="578.28" y2="142.54" stroke="#b4b4fb" stroke-width="2.8"/>
<line x1="580.06" y1="115.57" x2="580.06" y2="138.84" stroke="#b4b4fb" stroke-width="2.8"/>
<line x1="581.55" y1="117.97" x2="581.55" y2="140.05" stroke="#b4b4fb" stroke-width="2.8"/>
<line x1="583.11" y1="118.91" x2="583.11" y2="138.42" stroke="#b4b4fb" stroke-width="2.8"/>
<line x1="584.74" y1="117.47" x2="584.74" y2="139.23" stroke="#b4b4fb" stroke-width="2.8"/>
<line x1="588.7" y1="120.12" x2="588.7" y2="143.29" stroke="#b4b4fb" stroke-width="2.8"/>
<line x1="590.85" y1="119.18" x2="590.85" y2="140.65" stroke="#b4b4fb" stroke-width="2.8"/>
<line x1="592.41" y1="121.62" x2="592.41" y2="142.49" stroke="#b4b4fb" stroke-width="2.8"/>
<line x1="593.73" y1="119.7" x2="593.73" y2="141.75" stroke="#b4b4fb" stroke-width="2.8"/>
<line x1="595.45" y1="123.65" x2="595.45" y2="142.98" stroke="#b4b4fb" stroke-width="2.8"/>
<line x1="597.63" y1="118.71" x2="597.63" y2="142.27" stroke="#b4b4fb" stroke-width="2.8"/>
<line x1="599.17" y1="122.26" x2="599.17" y2="144.38" stroke="#b4b4fb" stroke-width="2.8"/>
<line x1="600.88" y1="120.74" x2="600.88" y2="142.68" stroke="#b4b4fb" stroke-width="2.8"/>
<line x1="602.44" y1="120.76" x2="602.44" y2="143.34" stroke="#b4b4fb" stroke-width="2.8"/>
<line x1="610" y1="127.2" x2="610" y2="149.63" stroke="#b4b4fb" stroke-width="2.8"/>
<line x1="612.01" y1="124.86" x2="612.01" y2="147.24" stroke="#b4b4fb" stroke-width="2.8"/>
<line x1="613.39" y1="125.88" x2="613.39" y2="147.01" stroke="#b4b4fb" stroke-width="2.8"/>
<line x1="614.83" y1="123.51" x2="614.83" y2="144.11" stroke="#b4b4fb" stroke-width="2.8"/>
<line x1="616.64" y1="128.07" x2="616.64" y2="147.08" stroke="#b4b4fb" stroke-width="2.8"/>
<line x1="618.66" y1="122.23" x2="618.66" y2="144.56" stroke="#b4b4fb" stroke-width="2.8"/>
<line x1="620.79" y1="125.15" x2="620.79" y2="143.86" stroke="#b4b4fb" stroke-width="2.8"/>
<line x1="622.21" y1="125.8" x2="622.21" y2="148.29" stroke="#b4b4fb" stroke-width="2.8"/>
<line x1="623.72" y1="127.74" x2="623.72" y2="148.21" stroke="#b4b4fb" stroke-width="2.8"/>
<line x1="625.92" y1="123.91" x2="625.92" y2="147.32" stroke="#b4b4fb" stroke-width="2.8"/>
<line x1="627.75" y1="128.54" x2="627.75" y2="149.84" stroke="#b4b4fb" stroke-width="2.8"/>
<line x1="629.42" y1="126.06" x2="629.42" y2="147.71" stroke="#b4b4fb" stroke-width="2.8"/>
<line x1="631.12" y1="125.49" x2="631.12" y2="144.42" stroke="#b4b4fb" stroke-width="2.8"/>
<line x1="633.66" y1="126.28" x2="633.66" y2="149.12" stroke="#b4b4fb" stroke-width="2.8"/>
<line x1="641" y1="129.84" x2="641" y2="151.09" stroke="#b4b4fb" stroke-width="2.8"/>
<line x1="643.04" y1="128.29" x2="643.04" y2="149.36" stroke="#b4b4fb" stroke-width="2.8"/>
<line x1="644.8" y1="128.13" x2="644.8" y2="148.85" stroke="#b4b4fb" stroke-width="2.8"/>
<line x1="646.64" y1="127.54" x2="646.64" y2="147.66" stroke="#b4b4fb" stroke-width="2.8"/>
<line x1="649.07" y1="130.32" x2="649.07" y2="150.88" stroke="#b4b4fb" stroke-width="2.8"/>
<line x1="651.66" y1="131.06" x2="651.66" y2="153.62" stroke="#b4b4fb" stroke-width="2.8"/>
<line x1="653.43" y1="130.99" x2="653.43" y2="150.83" stroke="#b4b4fb" stroke-width="2.8"/>
<line x1="654.99" y1="128" x2="654.99" y2="149.86" stroke="#b4b4fb" stroke-width="2.8"/>
<line x1="665" y1="133.49" x2="665" y2="154.25" stroke="#b4b4fb" stroke-width="2.8"/>
<line x1="666.56" y1="135.52" x2="666.56" y2="156.75" stroke="#b4b4fb" stroke-width="2.8"/>
<line x1="667.87" y1="132.75" x2="667.87" y2="151.86" stroke="#b4b4fb" stroke-width="2.8"/>
<line x1="670.34" y1="132.42" x2="670.34" y2="153.87" stroke="#b4b4fb" stroke-width="2.8"/>
<line x1="672.2" y1="132.69" x2="672.2" y2="155.05" stroke="#b4b4fb" stroke-width="2.8"/>
<line x1="674.56" y1="131.33" x2="674.56" y2="152.35" stroke="#b4b4fb" stroke-width="2.8"/>
<circle cx="433" cy="97.18" r="3.3" fill="#5252b8"/>
<circle cx="434.73" cy="93.76" r="3.3" fill="#5252b8"/>
<circle cx="436.44" cy="98.09" r="3.3" fill="#5252b8"/>
<circle cx="438.21" cy="96.13" r="3.3" fill="#5252b8"/>
<circle cx="440.53" cy="96.27" r="3.3" fill="#5252b8"/>
<circle cx="441.93" cy="95.83" r="3.3" fill="#5252b8"/>
<circle cx="443.49" cy="99.96" r="3.3" fill="#5252b8"/>
<circle cx="445.77" cy="100.38" r="3.3" fill="#5252b8"/>
<circle cx="447.39" cy="96.84" r="3.3" fill="#5252b8"/>
<circle cx="448.77" cy="100.9" r="3.3" fill="#5252b8"/>
<circle cx="450.12" cy="97.94" r="3.3" fill="#5252b8"/>
<circle cx="452.13" cy="99.53" r="3.3" fill="#5252b8"/>
<circle cx="453.86" cy="99.01" r="3.3" fill="#5252b8"/>
<circle cx="456.43" cy="101.15" r="3.3" fill="#5252b8"/>
<circle cx="458.88" cy="100.6" r="3.3" fill="#5252b8"/>
<circle cx="461.47" cy="100.36" r="3.3" fill="#5252b8"/>
<circle cx="463.11" cy="100.78" r="3.3" fill="#5252b8"/>
<circle cx="464.52" cy="103.61" r="3.3" fill="#5252b8"/>
<circle cx="465.94" cy="102.69" r="3.3" fill="#5252b8"/>
<circle cx="467.89" cy="103.73" r="3.3" fill="#5252b8"/>
<circle cx="470.12" cy="104.35" r="3.3" fill="#5252b8"/>
<circle cx="472" cy="104.94" r="3.3" fill="#5252b8"/>
<circle cx="473.6" cy="106.53" r="3.3" fill="#5252b8"/>
<circle cx="475.44" cy="105.54" r="3.3" fill="#5252b8"/>
<circle cx="477.55" cy="105.77" r="3.3" fill="#5252b8"/>
<circle cx="479.73" cy="106.54" r="3.3" fill="#5252b8"/>
<circle cx="482" cy="105.1" r="3.3" fill="#5252b8"/>
<circle cx="484.4" cy="107.46" r="3.3" fill="#5252b8"/>
<circle cx="486.56" cy="107.29" r="3.3" fill="#5252b8"/>
<circle cx="488.02" cy="109.69" r="3.3" fill="#5252b8"/>
<circle cx="490.41" cy="109.94" r="3.3" fill="#5252b8"/>
<circle cx="492.1" cy="108.72" r="3.3" fill="#5252b8"/>
<circle cx="494.13" cy="107.52" r="3.3" fill="#5252b8"/>
<circle cx="495.92" cy="107.3" r="3.3" fill="#5252b8"/>
<circle cx="498.18" cy="107.98" r="3.3" fill="#5252b8"/>
<circle cx="499.74" cy="111.05" r="3.3" fill="#5252b8"/>
<circle cx="501.36" cy="111.71" r="3.3" fill="#5252b8"/>
<circle cx="502.98" cy="110.08" r="3.3" fill="#5252b8"/>
<circle cx="504.48" cy="108.83" r="3.3" fill="#5252b8"/>
<circle cx="512.7" cy="116.99" r="3.3" fill="#5252b8"/>
<circle cx="514.75" cy="117.76" r="3.3" fill="#5252b8"/>
<circle cx="516.48" cy="117.36" r="3.3" fill="#5252b8"/>
<circle cx="518.29" cy="117.27" r="3.3" fill="#5252b8"/>
<circle cx="520.88" cy="115.67" r="3.3" fill="#5252b8"/>
<circle cx="522.84" cy="117.24" r="3.3" fill="#5252b8"/>
<circle cx="524.44" cy="120.1" r="3.3" fill="#5252b8"/>
<circle cx="526.79" cy="119.45" r="3.3" fill="#5252b8"/>
<circle cx="528.94" cy="119.68" r="3.3" fill="#5252b8"/>
<circle cx="531.53" cy="117.9" r="3.3" fill="#5252b8"/>
<circle cx="532.96" cy="119.58" r="3.3" fill="#5252b8"/>
<circle cx="534.88" cy="117.29" r="3.3" fill="#5252b8"/>
<circle cx="537.24" cy="120.38" r="3.3" fill="#5252b8"/>
<circle cx="539.64" cy="122" r="3.3" fill="#5252b8"/>
<circle cx="542.13" cy="121.34" r="3.3" fill="#5252b8"/>
<circle cx="543.48" cy="120.25" r="3.3" fill="#5252b8"/>
<circle cx="545.16" cy="119.95" r="3.3" fill="#5252b8"/>
<circle cx="546.62" cy="120.1" r="3.3" fill="#5252b8"/>
<circle cx="548.16" cy="120.05" r="3.3" fill="#5252b8"/>
<circle cx="550.73" cy="120.54" r="3.3" fill="#5252b8"/>
<circle cx="552.79" cy="124.05" r="3.3" fill="#5252b8"/>
<circle cx="555.29" cy="121.79" r="3.3" fill="#5252b8"/>
<circle cx="557.08" cy="123.4" r="3.3" fill="#5252b8"/>
<circle cx="559.5" cy="123.27" r="3.3" fill="#5252b8"/>
<circle cx="561.39" cy="122.84" r="3.3" fill="#5252b8"/>
<circle cx="563.03" cy="124.48" r="3.3" fill="#5252b8"/>
<circle cx="565.34" cy="122.97" r="3.3" fill="#5252b8"/>
<circle cx="567.87" cy="125.76" r="3.3" fill="#5252b8"/>
<circle cx="569.3" cy="124.57" r="3.3" fill="#5252b8"/>
<circle cx="571.38" cy="127.02" r="3.3" fill="#5252b8"/>
<circle cx="576.7" cy="129.26" r="3.3" fill="#5252b8"/>
<circle cx="578.28" cy="131.89" r="3.3" fill="#5252b8"/>
<circle cx="580.06" cy="128.1" r="3.3" fill="#5252b8"/>
<circle cx="581.55" cy="130.19" r="3.3" fill="#5252b8"/>
<circle cx="583.11" cy="129.22" r="3.3" fill="#5252b8"/>
<circle cx="584.74" cy="128.48" r="3.3" fill="#5252b8"/>
<circle cx="588.7" cy="132.66" r="3.3" fill="#5252b8"/>
<circle cx="590.85" cy="130.84" r="3.3" fill="#5252b8"/>
<circle cx="592.41" cy="133.19" r="3.3" fill="#5252b8"/>
<circle cx="593.73" cy="132.59" r="3.3" fill="#5252b8"/>
<circle cx="595.45" cy="133.7" r="3.3" fill="#5252b8"/>
<circle cx="597.63" cy="130.94" r="3.3" fill="#5252b8"/>
<circle cx="599.17" cy="133.24" r="3.3" fill="#5252b8"/>
<circle cx="600.88" cy="131.46" r="3.3" fill="#5252b8"/>
<circle cx="602.44" cy="132.84" r="3.3" fill="#5252b8"/>
<circle cx="610" cy="138.61" r="3.3" fill="#5252b8"/>
<circle cx="612.01" cy="137.43" r="3.3" fill="#5252b8"/>
<circle cx="613.39" cy="137.59" r="3.3" fill="#5252b8"/>
<circle cx="614.83" cy="135.37" r="3.3" fill="#5252b8"/>
<circle cx="616.64" cy="138.5" r="3.3" fill="#5252b8"/>
<circle cx="618.66" cy="135.02" r="3.3" fill="#5252b8"/>
<circle cx="620.79" cy="135.24" r="3.3" fill="#5252b8"/>
<circle cx="622.21" cy="137.7" r="3.3" fill="#5252b8"/>
<circle cx="623.72" cy="137.94" r="3.3" fill="#5252b8"/>
<circle cx="625.92" cy="136.36" r="3.3" fill="#5252b8"/>
<circle cx="627.75" cy="138.74" r="3.3" fill="#5252b8"/>
<circle cx="629.42" cy="138.89" r="3.3" fill="#5252b8"/>
<circle cx="631.12" cy="135.82" r="3.3" fill="#5252b8"/>
<circle cx="633.66" cy="138.72" r="3.3" fill="#5252b8"/>
<circle cx="641" cy="141.73" r="3.3" fill="#5252b8"/>
<circle cx="643.04" cy="138.58" r="3.3" fill="#5252b8"/>
<circle cx="644.8" cy="139.08" r="3.3" fill="#5252b8"/>
<circle cx="646.64" cy="138.31" r="3.3" fill="#5252b8"/>
<circle cx="649.07" cy="141.42" r="3.3" fill="#5252b8"/>
<circle cx="651.66" cy="142.57" r="3.3" fill="#5252b8"/>
<circle cx="653.43" cy="141.09" r="3.3" fill="#5252b8"/>
<circle cx="654.99" cy="140.32" r="3.3" fill="#5252b8"/>
<circle cx="665" cy="145.1" r="3.3" fill="#5252b8"/>
<circle cx="666.56" cy="145.79" r="3.3" fill="#5252b8"/>
<circle cx="667.87" cy="142.75" r="3.3" fill="#5252b8"/>
<circle cx="670.34" cy="145.35" r="3.3" fill="#5252b8"/>
<circle cx="672.2" cy="144.16" r="3.3" fill="#5252b8"/>
<circle cx="674.56" cy="142.81" r="3.3" fill="#5252b8"/>
<line x1="217.5" y1="471.8" x2="217.5" y2="486" stroke="#474747" stroke-width="2.8"/>
<line x1="281.5" y1="458.5" x2="281.5" y2="473.1" stroke="#474747" stroke-width="2.8"/>
<line x1="307.2" y1="474.6" x2="307.2" y2="488.3" stroke="#474747" stroke-width="2.8"/>
<line x1="283" y1="487.6" x2="283" y2="499.3" stroke="#474747" stroke-width="2.8"/>
<line x1="249.1" y1="501" x2="249.1" y2="512.1" stroke="#474747" stroke-width="2.8"/>
<line x1="229.2" y1="515.2" x2="229.2" y2="523.4" stroke="#474747" stroke-width="2.8"/>
<path d="M64.82,601.25L71.42,601.25L68.12,595.53Z" fill="#383838"/>
<path d="M68.01,600.91L74.61,600.91L71.31,595.19Z" fill="#383838"/>
<path d="M70.84,601.47L77.44,601.47L74.14,595.76Z" fill="#383838"/>
<path d="M72.89,598.86L79.49,598.86L76.19,593.15Z" fill="#383838"/>
<path d="M76.74,601.53L83.34,601.53L80.04,595.81Z" fill="#383838"/>
<path d="M80.06,601.57L86.66,601.57L83.36,595.85Z" fill="#383838"/>
<path d="M82.68,598.32L89.28,598.32L85.98,592.6Z" fill="#383838"/>
<path d="M84.72,601.5L91.32,601.5L88.02,595.79Z" fill="#383838"/>
<path d="M86.23,600.81L92.83,600.81L89.53,595.1Z" fill="#383838"/>
<path d="M88.67,598.96L95.27,598.96L91.97,593.25Z" fill="#383838"/>
<path d="M92.25,598.2L98.85,598.2L95.55,592.48Z" fill="#383838"/>
<path d="M94.58,596.52L101.18,596.52L97.88,590.81Z" fill="#383838"/>
<path d="M98.05,592.24L104.65,592.24L101.35,586.53Z" fill="#383838"/>
<path d="M99.87,595.24L106.47,595.24L103.17,589.52Z" fill="#383838"/>
<path d="M101.7,599.39L108.3,599.39L105,593.67Z" fill="#383838"/>
<path d="M102.36,594.17L108.96,594.17L105.66,588.45Z" fill="#383838"/>
<path d="M106.66,598.26L113.26,598.26L109.96,592.54Z" fill="#383838"/>
<path d="M104.74,592.55L111.34,592.55L108.04,586.83Z" fill="#383838"/>
<path d="M107.98,591.19L114.58,591.19L111.28,585.48Z" fill="#383838"/>
<path d="M107.83,590.11L114.43,590.11L111.13,584.4Z" fill="#383838"/>
<path d="M110.69,594.92L117.29,594.92L113.99,589.2Z" fill="#383838"/>
<path d="M109.31,599.16L115.91,599.16L112.61,593.45Z" fill="#383838"/>
<path d="M113.12,589.41L119.72,589.41L116.42,583.7Z" fill="#383838"/>
<path d="M112.1,600.37L118.7,600.37L115.4,594.66Z" fill="#383838"/>
<path d="M115.34,600.7L121.94,600.7L118.64,594.98Z" fill="#383838"/>
<path d="M114.86,599.82L121.46,599.82L118.16,594.1Z" fill="#383838"/>
<path d="M117.83,599.6L124.43,599.6L121.13,593.88Z" fill="#383838"/>
<path d="M117.66,600.13L124.26,600.13L120.96,594.41Z" fill="#383838"/>
<path d="M118.96,596.8L125.56,596.8L122.26,591.08Z" fill="#383838"/>
<path d="M120.48,598.67L127.08,598.67L123.78,592.95Z" fill="#383838"/>
<path d="M123.43,598.07L130.03,598.07L126.73,592.36Z" fill="#383838"/>
<path d="M122.45,599.15L129.05,599.15L125.75,593.44Z" fill="#383838"/>
<path d="M125.06,592.7L131.66,592.7L128.36,586.99Z" fill="#383838"/>
<path d="M125.28,586.07L131.88,586.07L128.58,580.35Z" fill="#383838"/>
<path d="M127.87,590.02L134.47,590.02L131.17,584.31Z" fill="#383838"/>
<path d="M127.36,597.85L133.96,597.85L130.66,592.13Z" fill="#383838"/>
<path d="M129.83,593.29L136.43,593.29L133.13,587.58Z" fill="#383838"/>
<path d="M130.09,592.97L136.69,592.97L133.39,587.25Z" fill="#383838"/>
<path d="M132.94,585.56L139.54,585.56L136.24,579.84Z" fill="#383838"/>
<path d="M133.71,593.21L140.31,593.21L137.01,587.49Z" fill="#383838"/>
<path d="M136.05,599.26L142.65,599.26L139.35,593.55Z" fill="#383838"/>
<path d="M134.73,588.26L141.33,588.26L138.03,582.55Z" fill="#383838"/>
<path d="M138.38,589.61L144.98,589.61L141.68,583.9Z" fill="#383838"/>
<path d="M138.4,598.7L145,598.7L141.7,592.98Z" fill="#383838"/>
<path d="M140.58,591.98L147.18,591.98L143.88,586.27Z" fill="#383838"/>
<path d="M139.81,599.6L146.41,599.6L143.11,593.88Z" fill="#383838"/>
<path d="M144.49,597.89L151.09,597.89L147.79,592.18Z" fill="#383838"/>
<path d="M144.73,597.64L151.33,597.64L148.03,591.92Z" fill="#383838"/>
<path d="M146.27,596.97L152.87,596.97L149.57,591.25Z" fill="#383838"/>
<path d="M146.05,588.97L152.65,588.97L149.35,583.25Z" fill="#383838"/>
<path d="M149.94,592.11L156.54,592.11L153.24,586.39Z" fill="#383838"/>
<path d="M148.8,590.99L155.4,590.99L152.1,585.27Z" fill="#383838"/>
<path d="M151.55,598.02L158.15,598.02L154.85,592.3Z" fill="#383838"/>
<path d="M152.41,597.07L159.01,597.07L155.71,591.36Z" fill="#383838"/>
<path d="M154.34,598.31L160.94,598.31L157.64,592.59Z" fill="#383838"/>
<path d="M153.87,591.39L160.47,591.39L157.17,585.67Z" fill="#383838"/>
<path d="M158.07,583.73L164.67,583.73L161.37,578.01Z" fill="#383838"/>
<path d="M157.5,589.35L164.1,589.35L160.8,583.63Z" fill="#383838"/>
<path d="M159,598.66L165.6,598.66L162.3,592.95Z" fill="#383838"/>
<path d="M160.75,599.82L167.35,599.82L164.05,594.1Z" fill="#383838"/>
<path d="M161.95,581.7L168.55,581.7L165.25,575.99Z" fill="#383838"/>
<path d="M162.88,589.7L169.48,589.7L166.18,583.98Z" fill="#383838"/>
<path d="M166.93,595.96L173.53,595.96L170.23,590.25Z" fill="#383838"/>
<path d="M166.03,599.33L172.63,599.33L169.33,593.62Z" fill="#383838"/>
<path d="M169.44,583.16L176.04,583.16L172.74,577.45Z" fill="#383838"/>
<path d="M169.55,588.02L176.15,588.02L172.85,582.31Z" fill="#383838"/>
<path d="M172.62,595.32L179.22,595.32L175.92,589.6Z" fill="#383838"/>
<path d="M172.99,583.06L179.59,583.06L176.29,577.34Z" fill="#383838"/>
<path d="M175.56,585.79L182.16,585.79L178.86,580.08Z" fill="#383838"/>
<path d="M175.08,590.88L181.68,590.88L178.38,585.16Z" fill="#383838"/>
<path d="M177.58,590.61L184.18,590.61L180.88,584.9Z" fill="#383838"/>
<path d="M177.65,599.21L184.25,599.21L180.95,593.49Z" fill="#383838"/>
<path d="M181.21,583.37L187.81,583.37L184.51,577.66Z" fill="#383838"/>
<path d="M181.23,594.54L187.83,594.54L184.53,588.82Z" fill="#383838"/>
<path d="M184.25,593.49L190.85,593.49L187.55,587.78Z" fill="#383838"/>
<path d="M184.07,599.13L190.67,599.13L187.37,593.41Z" fill="#383838"/>
<path d="M185.57,590.05L192.17,590.05L188.87,584.33Z" fill="#383838"/>
<path d="M186.01,597.2L192.61,597.2L189.31,591.49Z" fill="#383838"/>
<path d="M189.15,589.7L195.75,589.7L192.45,583.98Z" fill="#383838"/>
<path d="M187.33,596.77L193.93,596.77L190.63,591.06Z" fill="#383838"/>
<path d="M190.14,588.17L196.74,588.17L193.44,582.45Z" fill="#383838"/>
<path d="M191.54,598.04L198.14,598.04L194.84,592.32Z" fill="#383838"/>
<path d="M194.44,593.32L201.04,593.32L197.74,587.61Z" fill="#383838"/>
<path d="M193.99,595.51L200.59,595.51L197.29,589.79Z" fill="#383838"/>
<path d="M196.54,593.51L203.14,593.51L199.84,587.8Z" fill="#383838"/>
<path d="M196.69,582.04L203.29,582.04L199.99,576.32Z" fill="#383838"/>
<path d="M198.1,590.33L204.7,590.33L201.4,584.61Z" fill="#383838"/>
<path d="M201.34,592.28L207.94,592.28L204.64,586.56Z" fill="#383838"/>
<path d="M204.75,587.64L211.35,587.64L208.05,581.93Z" fill="#383838"/>
<path d="M206.14,598.01L212.74,598.01L209.44,592.3Z" fill="#383838"/>
<path d="M208.45,597.41L215.05,597.41L211.75,591.69Z" fill="#383838"/>
<path d="M211.13,592.66L217.73,592.66L214.43,586.95Z" fill="#383838"/>
<path d="M214.58,581.8L221.18,581.8L217.88,576.08Z" fill="#383838"/>
<path d="M217.52,599.39L224.12,599.39L220.82,593.67Z" fill="#383838"/>
<path d="M218.98,588.53L225.58,588.53L222.28,582.82Z" fill="#383838"/>
<path d="M220.31,586.86L226.91,586.86L223.61,581.14Z" fill="#383838"/>
<path d="M222.51,593.74L229.11,593.74L225.81,588.02Z" fill="#383838"/>
<path d="M225.9,597.2L232.5,597.2L229.2,591.48Z" fill="#383838"/>
<path d="M228.58,590.67L235.18,590.67L231.88,584.96Z" fill="#383838"/>
<path d="M232.18,590.3L238.78,590.3L235.48,584.59Z" fill="#383838"/>
<path d="M234.31,589.9L240.91,589.9L237.61,584.18Z" fill="#383838"/>
<path d="M214.05,482.79L220.95,482.79L217.5,476.82Z" fill="#383838"/>
<path d="M278.05,469.19L284.95,469.19L281.5,463.22Z" fill="#383838"/>
<path d="M303.75,485.29L310.65,485.29L307.2,479.32Z" fill="#383838"/>
<path d="M279.55,495.99L286.45,495.99L283,490.02Z" fill="#383838"/>
<path d="M245.65,509.59L252.55,509.59L249.1,503.62Z" fill="#383838"/>
<path d="M225.75,520.39L232.65,520.39L229.2,514.42Z" fill="#383838"/>
<path d="M213.35,526.89L220.25,526.89L216.8,520.92Z" fill="#383838"/>
<path d="M236.65,528.19L243.55,528.19L240.1,522.22Z" fill="#383838"/>
<path d="M237.75,529.29L244.65,529.29L241.2,523.32Z" fill="#383838"/>
<path d="M283.85,532.79L290.75,532.79L287.3,526.82Z" fill="#383838"/>
<path d="M237.15,541.59L244.05,541.59L240.6,535.62Z" fill="#383838"/>
<path d="M245.65,553.59L252.55,553.59L249.1,547.62Z" fill="#383838"/>
<path d="M240.65,564.39L247.55,564.39L244.1,558.42Z" fill="#383838"/>
<path d="M258.15,565.89L265.05,565.89L261.6,559.92Z" fill="#383838"/>
<path d="M265.95,565.89L272.85,565.89L269.4,559.92Z" fill="#383838"/>
<path d="M250.55,569.99L257.45,569.99L254,564.02Z" fill="#383838"/>
<path d="M258.75,571.79L265.65,571.79L262.2,565.82Z" fill="#383838"/>
<path d="M254.05,573.49L260.95,573.49L257.5,567.52Z" fill="#383838"/>
<path d="M285.05,568.29L291.95,568.29L288.5,562.32Z" fill="#383838"/>
<path d="M292.35,576.79L299.25,576.79L295.8,570.82Z" fill="#383838"/>
<path d="M254.65,585.39L261.55,585.39L258.1,579.42Z" fill="#383838"/>
<path d="M212.95,527.29L219.85,527.29L216.4,521.32Z" fill="#383838"/>
<path d="M210.95,532.59L217.85,532.59L214.4,526.62Z" fill="#383838"/>
<path d="M218.25,535.29L225.15,535.29L221.7,529.32Z" fill="#383838"/>
<path d="M216.25,541.19L223.15,541.19L219.7,535.22Z" fill="#383838"/>
<path d="M234.15,539.89L241.05,539.89L237.6,533.92Z" fill="#383838"/>
<path d="M202.95,545.19L209.85,545.19L206.4,539.22Z" fill="#383838"/>
<path d="M228.15,550.49L235.05,550.49L231.6,544.52Z" fill="#383838"/>
<path d="M220.85,555.79L227.75,555.79L224.3,549.82Z" fill="#383838"/>
<path d="M185.15,557.79L192.05,557.79L188.6,551.82Z" fill="#383838"/>
<path d="M193.05,561.79L199.95,561.79L196.5,555.82Z" fill="#383838"/>
<path d="M202.35,560.39L209.25,560.39L205.8,554.42Z" fill="#383838"/>
<path d="M173.15,563.09L180.05,563.09L176.6,557.12Z" fill="#383838"/>
<path d="M174.55,568.99L181.45,568.99L178,563.02Z" fill="#383838"/>
<path d="M218.85,565.09L225.75,565.09L222.3,559.12Z" fill="#383838"/>
<path d="M220.85,563.09L227.75,563.09L224.3,557.12Z" fill="#383838"/>
<path d="M233.45,563.09L240.35,563.09L236.9,557.12Z" fill="#383838"/>
<path d="M239.45,564.39L246.35,564.39L242.9,558.42Z" fill="#383838"/>
<path d="M195.05,572.39L201.95,572.39L198.5,566.42Z" fill="#383838"/>
<path d="M215.55,574.29L222.45,574.29L219,568.32Z" fill="#383838"/>
<path d="M223.55,573.69L230.45,573.69L227,567.72Z" fill="#383838"/>
<path d="M222.25,582.29L229.15,582.29L225.7,576.32Z" fill="#383838"/>
<path d="M227.55,582.29L234.45,582.29L231,576.32Z" fill="#383838"/>
<path d="M185.15,582.29L192.05,582.29L188.6,576.32Z" fill="#383838"/>
<path d="M190.45,580.29L197.35,580.29L193.9,574.32Z" fill="#383838"/>
<path d="M176.45,582.99L183.35,582.99L179.9,577.02Z" fill="#383838"/>
<path d="M171.85,580.29L178.75,580.29L175.3,574.32Z" fill="#383838"/>
<path d="M188.45,584.29L195.35,584.29L191.9,578.32Z" fill="#383838"/>
<path d="M225.55,586.89L232.45,586.89L229,580.92Z" fill="#383838"/>
<path d="M220.85,592.19L227.75,592.19L224.3,586.22Z" fill="#383838"/>
<path d="M213.25,526.59L220.15,526.59L216.7,520.62Z" fill="#383838"/>
<path d="M210.85,532.09L217.75,532.09L214.3,526.12Z" fill="#383838"/>
<path d="M202.95,544.79L209.85,544.79L206.4,538.82Z" fill="#383838"/>
<path d="M185.05,557.49L191.95,557.49L188.5,551.52Z" fill="#383838"/>
<path d="M166.45,562.19L173.35,562.19L169.9,556.22Z" fill="#383838"/>
<path d="M172.85,562.99L179.75,562.99L176.3,557.02Z" fill="#383838"/>
<path d="M174.35,569.39L181.25,569.39L177.8,563.42Z" fill="#383838"/>
<path d="M192.65,561.39L199.55,561.39L196.1,555.42Z" fill="#383838"/>
<path d="M202.15,560.59L209.05,560.59L205.6,554.62Z" fill="#383838"/>
<path d="M194.95,571.69L201.85,571.69L198.4,565.72Z" fill="#383838"/>
<path d="M164.05,572.49L170.95,572.49L167.5,566.52Z" fill="#383838"/>
<path d="M150.65,575.69L157.55,575.69L154.1,569.72Z" fill="#383838"/>
<path d="M146.65,579.69L153.55,579.69L150.1,573.72Z" fill="#383838"/>
<path d="M156.15,581.19L163.05,581.19L159.6,575.22Z" fill="#383838"/>
<path d="M162.55,579.69L169.45,579.69L166,573.72Z" fill="#383838"/>
<path d="M175.95,582.79L182.85,582.79L179.4,576.82Z" fill="#383838"/>
<path d="M186.25,581.99L193.15,581.99L189.7,576.02Z" fill="#383838"/>
<path d="M191.05,580.39L197.95,580.39L194.5,574.42Z" fill="#383838"/>
<path d="M118.15,583.59L125.05,583.59L121.6,577.62Z" fill="#383838"/>
<path d="M128.45,587.59L135.35,587.59L131.9,581.62Z" fill="#383838"/>
<path d="M140.35,587.59L147.25,587.59L143.8,581.62Z" fill="#383838"/>
<path d="M144.25,589.99L151.15,589.99L147.7,584.02Z" fill="#383838"/>
<path d="M153.75,590.69L160.65,590.69L157.2,584.72Z" fill="#383838"/>
<path d="M214.05,574.89L220.95,574.89L217.5,568.92Z" fill="#383838"/>
<path d="M215.55,539.99L222.45,539.99L219,534.02Z" fill="#383838"/>
<path d="M166.55,562.69L173.45,562.69L170,556.72Z" fill="#383838"/>
<path d="M150.55,575.59L157.45,575.59L154,569.62Z" fill="#383838"/>
<path d="M163.95,572.99L170.85,572.99L167.4,567.02Z" fill="#383838"/>
<path d="M146.05,578.89L152.95,578.89L149.5,572.92Z" fill="#383838"/>
<path d="M116.85,581.49L123.75,581.49L120.3,575.52Z" fill="#383838"/>
<path d="M68.85,602.39L75.75,602.39L72.3,596.42Z" fill="#383838"/>
<path d="M75.45,601.29L82.35,601.29L78.9,595.32Z" fill="#383838"/>
<path d="M80.05,600.59L86.95,600.59L83.5,594.62Z" fill="#383838"/>
<path d="M83.65,599.59L90.55,599.59L87.1,593.62Z" fill="#383838"/>
<path d="M88.75,595.69L95.65,595.69L92.2,589.72Z" fill="#383838"/>
<path d="M92.85,593.19L99.75,593.19L96.3,587.22Z" fill="#383838"/>
<path d="M96.95,598.29L103.85,598.29L100.4,592.32Z" fill="#383838"/>
<path d="M102.55,592.69L109.45,592.69L106,586.72Z" fill="#383838"/>
<path d="M108.65,597.29L115.55,597.29L112.1,591.32Z" fill="#383838"/>
<path d="M113.75,585.99L120.65,585.99L117.2,580.02Z" fill="#383838"/>
<path d="M116.85,583.49L123.75,583.49L120.3,577.52Z" fill="#383838"/>
<path d="M120.95,593.69L127.85,593.69L124.4,587.72Z" fill="#383838"/>
<path d="M150.75,576.29L157.65,576.29L154.2,570.32Z" fill="#383838"/>
<path d="M145.55,580.19L152.45,580.19L149,574.22Z" fill="#383838"/>
<path d="M128.05,587.29L134.95,587.29L131.5,581.32Z" fill="#383838"/>
<path d="M139.75,587.29L146.65,587.29L143.2,581.32Z" fill="#383838"/>
<path d="M93.05,593.09L99.95,593.09L96.5,587.12Z" fill="#383838"/>
<path d="M88.65,595.99L95.55,595.99L92.1,590.02Z" fill="#383838"/>
<path d="M102.55,593.09L109.45,593.09L106,587.12Z" fill="#383838"/>
<path d="M108.35,596.69L115.25,596.69L111.8,590.72Z" fill="#383838"/>
<path d="M144.15,588.69L151.05,588.69L147.6,582.72Z" fill="#383838"/>
<path d="M152.95,590.19L159.85,590.19L156.4,584.22Z" fill="#383838"/>
<path d="M83.55,599.69L90.45,599.69L87,593.72Z" fill="#383838"/>
<path d="M79.95,601.09L86.85,601.09L83.4,595.12Z" fill="#383838"/>
<path d="M75.55,601.89L82.45,601.89L79,595.92Z" fill="#383838"/>
<path d="M68.25,602.59L75.15,602.59L71.7,596.62Z" fill="#383838"/>
<path d="M133.95,593.09L140.85,593.09L137.4,587.12Z" fill="#383838"/>
<path d="M142.65,598.99L149.55,598.99L146.1,593.02Z" fill="#383838"/>
<rect x="68.7" y="601.4" width="5.4" height="5.4" fill="#cc1111"/>
<rect x="71.11" y="601.4" width="5.4" height="5.4" fill="#cc1111"/>
<rect x="73.33" y="601.4" width="5.4" height="5.4" fill="#cc1111"/>
<rect x="76.09" y="601.4" width="5.4" height="5.4" fill="#cc1111"/>
<rect x="79.15" y="601.4" width="5.4" height="5.4" fill="#cc1111"/>
<rect x="81.57" y="601.4" width="5.4" height="5.4" fill="#cc1111"/>
<rect x="84.09" y="601.4" width="5.4" height="5.4" fill="#cc1111"/>
<rect x="86.71" y="601.4" width="5.4" height="5.4" fill="#cc1111"/>
<rect x="89.74" y="601.4" width="5.4" height="5.4" fill="#cc1111"/>
<rect x="92.57" y="601.4" width="5.4" height="5.4" fill="#cc1111"/>
<rect x="95.51" y="601.4" width="5.4" height="5.4" fill="#cc1111"/>
<rect x="98.61" y="601.4" width="5.4" height="5.4" fill="#cc1111"/>
<rect x="101.29" y="601.4" width="5.4" height="5.4" fill="#cc1111"/>
<rect x="104.44" y="601.4" width="5.4" height="5.4" fill="#cc1111"/>
<rect x="107.72" y="601.4" width="5.4" height="5.4" fill="#cc1111"/>
<rect x="110.03" y="601.4" width="5.4" height="5.4" fill="#cc1111"/>
<rect x="113.35" y="601.4" width="5.4" height="5.4" fill="#cc1111"/>
<rect x="116.41" y="601.4" width="5.4" height="5.4" fill="#cc1111"/>
<rect x="118.77" y="601.4" width="5.4" height="5.4" fill="#cc1111"/>
<rect x="121.51" y="601.4" width="5.4" height="5.4" fill="#cc1111"/>
<rect x="124.47" y="601.4" width="5.4" height="5.4" fill="#cc1111"/>
<rect x="127.76" y="601.4" width="5.4" height="5.4" fill="#cc1111"/>
<rect x="130.41" y="601.4" width="5.4" height="5.4" fill="#cc1111"/>
<rect x="133.29" y="601.4" width="5.4" height="5.4" fill="#cc1111"/>
<rect x="136.55" y="601.4" width="5.4" height="5.4" fill="#cc1111"/>
<rect x="139.7" y="601.4" width="5.4" height="5.4" fill="#cc1111"/>
<rect x="143.04" y="601.4" width="5.4" height="5.4" fill="#cc1111"/>
<rect x="145.79" y="601.4" width="5.4" height="5.4" fill="#cc1111"/>
<rect x="148.77" y="601.4" width="5.4" height="5.4" fill="#cc1111"/>
<rect x="151.22" y="601.4" width="5.4" height="5.4" fill="#cc1111"/>
<rect x="154.29" y="601.4" width="5.4" height="5.4" fill="#cc1111"/>
<rect x="157.47" y="601.4" width="5.4" height="5.4" fill="#cc1111"/>
<rect x="160.44" y="601.4" width="5.4" height="5.4" fill="#cc1111"/>
<rect x="163.5" y="601.4" width="5.4" height="5.4" fill="#cc1111"/>
<rect x="165.96" y="601.4" width="5.4" height="5.4" fill="#cc1111"/>
<rect x="169.24" y="601.4" width="5.4" height="5.4" fill="#cc1111"/>
<rect x="172.61" y="601.4" width="5.4" height="5.4" fill="#cc1111"/>
<rect x="175.98" y="601.4" width="5.4" height="5.4" fill="#cc1111"/>
<rect x="178.83" y="601.4" width="5.4" height="5.4" fill="#cc1111"/>
<rect x="181.98" y="601.4" width="5.4" height="5.4" fill="#cc1111"/>
<rect x="184.56" y="601.4" width="5.4" height="5.4" fill="#cc1111"/>
<rect x="187.85" y="601.4" width="5.4" height="5.4" fill="#cc1111"/>
<rect x="191.08" y="601.4" width="5.4" height="5.4" fill="#cc1111"/>
<rect x="193.7" y="601.4" width="5.4" height="5.4" fill="#cc1111"/>
<rect x="196" y="601.4" width="5.4" height="5.4" fill="#cc1111"/>
<rect x="196.08" y="601.4" width="5.4" height="5.4" fill="#cc1111"/>
<rect x="202.48" y="601.4" width="5.4" height="5.4" fill="#cc1111"/>
<rect x="205.34" y="601.4" width="5.4" height="5.4" fill="#cc1111"/>
<rect x="208.46" y="601.4" width="5.4" height="5.4" fill="#cc1111"/>
<rect x="211.24" y="601.4" width="5.4" height="5.4" fill="#cc1111"/>
<rect x="213.48" y="601.4" width="5.4" height="5.4" fill="#cc1111"/>
<rect x="216.65" y="601.4" width="5.4" height="5.4" fill="#cc1111"/>
<rect x="218.93" y="601.4" width="5.4" height="5.4" fill="#cc1111"/>
<rect x="220.57" y="601.4" width="5.4" height="5.4" fill="#cc1111"/>
<rect x="226.97" y="601.4" width="5.4" height="5.4" fill="#cc1111"/>
<rect x="229.38" y="601.4" width="5.4" height="5.4" fill="#cc1111"/>
<rect x="231.98" y="601.4" width="5.4" height="5.4" fill="#cc1111"/>
<rect x="235.13" y="601.4" width="5.4" height="5.4" fill="#cc1111"/>
<rect x="237.5" y="601.4" width="5.4" height="5.4" fill="#cc1111"/>
<rect x="239.88" y="601.4" width="5.4" height="5.4" fill="#cc1111"/>
<rect x="240.09" y="601.4" width="5.4" height="5.4" fill="#cc1111"/>
<rect x="246.49" y="601.4" width="5.4" height="5.4" fill="#cc1111"/>
<rect x="249.56" y="601.4" width="5.4" height="5.4" fill="#cc1111"/>
<rect x="249.7" y="601.4" width="5.4" height="5.4" fill="#cc1111"/>
<rect x="263.7" y="601.4" width="5.4" height="5.4" fill="#cc1111"/>
<rect x="266.5" y="601.4" width="5.4" height="5.4" fill="#cc1111"/>
<rect x="275.7" y="601.4" width="5.4" height="5.4" fill="#cc1111"/>
<rect x="285.1" y="601.4" width="5.4" height="5.4" fill="#cc1111"/>
<rect x="300.2" y="601.4" width="5.4" height="5.4" fill="#cc1111"/>
<circle cx="63.2" cy="604.1" r="2.7" fill="#c4c4c4" stroke="#7a7a7a" stroke-width="1"/>
<line x1="189" y1="496.4" x2="189" y2="508.1" stroke="#b4b4fb" stroke-width="3.0"/>
<line x1="307.5" y1="505.1" x2="307.5" y2="516.2" stroke="#b4b4fb" stroke-width="3.0"/>
<line x1="183.3" y1="531" x2="183.3" y2="541" stroke="#b4b4fb" stroke-width="3.0"/>
<line x1="229" y1="523" x2="229" y2="532" stroke="#b4b4fb" stroke-width="3.0"/>
<circle cx="71.89" cy="602.78" r="2.9" fill="#5252b8"/>
<circle cx="71.9" cy="603.15" r="2.9" fill="#5252b8"/>
<circle cx="72.96" cy="603.42" r="2.9" fill="#5252b8"/>
<circle cx="73.36" cy="603.36" r="2.9" fill="#5252b8"/>
<circle cx="76.16" cy="602.86" r="2.9" fill="#5252b8"/>
<circle cx="75.09" cy="602.77" r="2.9" fill="#5252b8"/>
<circle cx="78.53" cy="601.57" r="2.9" fill="#5252b8"/>
<circle cx="78.43" cy="603.34" r="2.9" fill="#5252b8"/>
<circle cx="80.84" cy="602.56" r="2.9" fill="#5252b8"/>
<circle cx="80.76" cy="603.28" r="2.9" fill="#5252b8"/>
<circle cx="82.15" cy="602.12" r="2.9" fill="#5252b8"/>
<circle cx="83.13" cy="600.14" r="2.9" fill="#5252b8"/>
<circle cx="85.5" cy="600.92" r="2.9" fill="#5252b8"/>
<circle cx="85.76" cy="602.43" r="2.9" fill="#5252b8"/>
<circle cx="87.08" cy="602.14" r="2.9" fill="#5252b8"/>
<circle cx="88.1" cy="599.59" r="2.9" fill="#5252b8"/>
<circle cx="88.63" cy="602.3" r="2.9" fill="#5252b8"/>
<circle cx="90.01" cy="602.46" r="2.9" fill="#5252b8"/>
<circle cx="91.89" cy="602.15" r="2.9" fill="#5252b8"/>
<circle cx="92.49" cy="603.07" r="2.9" fill="#5252b8"/>
<circle cx="95.73" cy="603.12" r="2.9" fill="#5252b8"/>
<circle cx="94.56" cy="603.2" r="2.9" fill="#5252b8"/>
<circle cx="96.88" cy="600.54" r="2.9" fill="#5252b8"/>
<circle cx="97.48" cy="602.47" r="2.9" fill="#5252b8"/>
<circle cx="98.41" cy="600.01" r="2.9" fill="#5252b8"/>
<circle cx="98.67" cy="601.62" r="2.9" fill="#5252b8"/>
<circle cx="101.08" cy="601.4" r="2.9" fill="#5252b8"/>
<circle cx="101.03" cy="602.26" r="2.9" fill="#5252b8"/>
<circle cx="103.05" cy="602.93" r="2.9" fill="#5252b8"/>
<circle cx="103.92" cy="600.55" r="2.9" fill="#5252b8"/>
<circle cx="106.3" cy="598.27" r="2.9" fill="#5252b8"/>
<circle cx="105.54" cy="598.2" r="2.9" fill="#5252b8"/>
<circle cx="109.57" cy="598.5" r="2.9" fill="#5252b8"/>
<circle cx="108.39" cy="602.33" r="2.9" fill="#5252b8"/>
<circle cx="112.67" cy="602.49" r="2.9" fill="#5252b8"/>
<circle cx="110.94" cy="597.19" r="2.9" fill="#5252b8"/>
<circle cx="113.28" cy="598.73" r="2.9" fill="#5252b8"/>
<circle cx="114.42" cy="602.55" r="2.9" fill="#5252b8"/>
<circle cx="115.32" cy="597.65" r="2.9" fill="#5252b8"/>
<circle cx="116.43" cy="601.16" r="2.9" fill="#5252b8"/>
<circle cx="118.25" cy="601.9" r="2.9" fill="#5252b8"/>
<circle cx="118.82" cy="595.74" r="2.9" fill="#5252b8"/>
<circle cx="120.34" cy="599.98" r="2.9" fill="#5252b8"/>
<circle cx="120.19" cy="600" r="2.9" fill="#5252b8"/>
<circle cx="121.06" cy="601.77" r="2.9" fill="#5252b8"/>
<circle cx="121.95" cy="601.8" r="2.9" fill="#5252b8"/>
<circle cx="123.56" cy="598.85" r="2.9" fill="#5252b8"/>
<circle cx="123.68" cy="601.29" r="2.9" fill="#5252b8"/>
<circle cx="127.93" cy="592.75" r="2.9" fill="#5252b8"/>
<circle cx="126.2" cy="601.21" r="2.9" fill="#5252b8"/>
<circle cx="130.55" cy="599.08" r="2.9" fill="#5252b8"/>
<circle cx="129.95" cy="600.04" r="2.9" fill="#5252b8"/>
<circle cx="132.64" cy="598.95" r="2.9" fill="#5252b8"/>
<circle cx="132.84" cy="600.66" r="2.9" fill="#5252b8"/>
<circle cx="135.16" cy="599.95" r="2.9" fill="#5252b8"/>
<circle cx="138.62" cy="598.08" r="2.9" fill="#5252b8"/>
<circle cx="141.09" cy="596.63" r="2.9" fill="#5252b8"/>
<circle cx="146.75" cy="591.88" r="2.9" fill="#5252b8"/>
<circle cx="150.37" cy="593.84" r="2.9" fill="#5252b8"/>
<circle cx="155.23" cy="595.37" r="2.9" fill="#5252b8"/>
<circle cx="159.2" cy="597.35" r="2.9" fill="#5252b8"/>
<circle cx="162.99" cy="591.58" r="2.9" fill="#5252b8"/>
<circle cx="166.43" cy="589.51" r="2.9" fill="#5252b8"/>
<circle cx="170.09" cy="591.78" r="2.9" fill="#5252b8"/>
<circle cx="172.02" cy="592.47" r="2.9" fill="#5252b8"/>
<circle cx="175.08" cy="595.55" r="2.9" fill="#5252b8"/>
<circle cx="179.52" cy="593.63" r="2.9" fill="#5252b8"/>
<circle cx="182.57" cy="588.79" r="2.9" fill="#5252b8"/>
<circle cx="185.55" cy="593.34" r="2.9" fill="#5252b8"/>
<circle cx="189.98" cy="596.09" r="2.9" fill="#5252b8"/>
<circle cx="193.28" cy="592.78" r="2.9" fill="#5252b8"/>
<circle cx="197.45" cy="597.43" r="2.9" fill="#5252b8"/>
<circle cx="201" cy="596.76" r="2.9" fill="#5252b8"/>
<circle cx="203.55" cy="596.98" r="2.9" fill="#5252b8"/>
<circle cx="207.31" cy="596.71" r="2.9" fill="#5252b8"/>
<circle cx="211.03" cy="594.89" r="2.9" fill="#5252b8"/>
<circle cx="189" cy="502.5" r="2.9" fill="#5252b8"/>
<circle cx="307.5" cy="511.3" r="2.9" fill="#5252b8"/>
<circle cx="183.3" cy="536.6" r="2.9" fill="#5252b8"/>
<circle cx="229" cy="527.9" r="2.9" fill="#5252b8"/>
<circle cx="281.1" cy="545.8" r="2.9" fill="#5252b8"/>
<circle cx="262.8" cy="552.8" r="2.9" fill="#5252b8"/>
<circle cx="268" cy="557.5" r="2.9" fill="#5252b8"/>
<circle cx="266.3" cy="559.9" r="2.9" fill="#5252b8"/>
<circle cx="269.8" cy="558.1" r="2.9" fill="#5252b8"/>
<circle cx="289.3" cy="556.9" r="2.9" fill="#5252b8"/>
<circle cx="310.3" cy="560.4" r="2.9" fill="#5252b8"/>
<circle cx="250.3" cy="563.9" r="2.9" fill="#5252b8"/>
<circle cx="257.3" cy="565.1" r="2.9" fill="#5252b8"/>
<circle cx="259.3" cy="566.3" r="2.9" fill="#5252b8"/>
<circle cx="284.4" cy="567.1" r="2.9" fill="#5252b8"/>
<circle cx="303.6" cy="570.4" r="2.9" fill="#5252b8"/>
<circle cx="240" cy="570.6" r="2.9" fill="#5252b8"/>
<circle cx="255.2" cy="577.4" r="2.9" fill="#5252b8"/>
<circle cx="280.9" cy="581.1" r="2.9" fill="#5252b8"/>
<circle cx="292.2" cy="583.4" r="2.9" fill="#5252b8"/>
<circle cx="256.1" cy="588.8" r="2.9" fill="#5252b8"/>
<circle cx="260.4" cy="591.6" r="2.9" fill="#5252b8"/>
<circle cx="280.3" cy="594.3" r="2.9" fill="#5252b8"/>
<circle cx="170.7" cy="550.5" r="2.9" fill="#5252b8"/>
<circle cx="222.3" cy="548.5" r="2.9" fill="#5252b8"/>
<circle cx="228.7" cy="558.2" r="2.9" fill="#5252b8"/>
<circle cx="197.8" cy="562.4" r="2.9" fill="#5252b8"/>
<circle cx="203.8" cy="561.7" r="2.9" fill="#5252b8"/>
<circle cx="217" cy="568.8" r="2.9" fill="#5252b8"/>
<circle cx="221" cy="570.4" r="2.9" fill="#5252b8"/>
<circle cx="232.9" cy="570.6" r="2.9" fill="#5252b8"/>
<circle cx="238.2" cy="570.4" r="2.9" fill="#5252b8"/>
<circle cx="171.3" cy="565" r="2.9" fill="#5252b8"/>
<circle cx="203.1" cy="571" r="2.9" fill="#5252b8"/>
<circle cx="207.1" cy="571" r="2.9" fill="#5252b8"/>
<circle cx="205.1" cy="573.7" r="2.9" fill="#5252b8"/>
<circle cx="208.4" cy="574.3" r="2.9" fill="#5252b8"/>
<circle cx="171.3" cy="577" r="2.9" fill="#5252b8"/>
<circle cx="206.4" cy="581.6" r="2.9" fill="#5252b8"/>
<circle cx="199.2" cy="582.3" r="2.9" fill="#5252b8"/>
<circle cx="185.9" cy="584.3" r="2.9" fill="#5252b8"/>
<circle cx="232.9" cy="584.3" r="2.9" fill="#5252b8"/>
<circle cx="234.3" cy="587.6" r="2.9" fill="#5252b8"/>
<circle cx="208.4" cy="586.3" r="2.9" fill="#5252b8"/>
<circle cx="217" cy="588.2" r="2.9" fill="#5252b8"/>
<circle cx="219.7" cy="591.6" r="2.9" fill="#5252b8"/>
<circle cx="222.3" cy="592.9" r="2.9" fill="#5252b8"/>
<circle cx="216.4" cy="596.9" r="2.9" fill="#5252b8"/>
<circle cx="236.3" cy="595.3" r="2.9" fill="#5252b8"/>
<circle cx="201.8" cy="596.2" r="2.9" fill="#5252b8"/>
<circle cx="206.4" cy="598.2" r="2.9" fill="#5252b8"/>
<circle cx="170" cy="550.7" r="2.9" fill="#5252b8"/>
<circle cx="130" cy="572" r="2.9" fill="#5252b8"/>
<circle cx="128.5" cy="574.9" r="2.9" fill="#5252b8"/>
<circle cx="155.9" cy="565.9" r="2.9" fill="#5252b8"/>
<circle cx="168.9" cy="565" r="2.9" fill="#5252b8"/>
<circle cx="172.1" cy="565.2" r="2.9" fill="#5252b8"/>
<circle cx="161.4" cy="574.3" r="2.9" fill="#5252b8"/>
<circle cx="170.2" cy="576.2" r="2.9" fill="#5252b8"/>
<circle cx="140.4" cy="579.2" r="2.9" fill="#5252b8"/>
<circle cx="156.1" cy="565.8" r="2.9" fill="#5252b8"/>
<circle cx="130.3" cy="572.1" r="2.9" fill="#5252b8"/>
<circle cx="140.6" cy="580" r="2.9" fill="#5252b8"/>
<circle cx="161.5" cy="574.2" r="2.9" fill="#5252b8"/>
<circle cx="170.4" cy="564.7" r="2.9" fill="#5252b8"/>
<circle cx="168.3" cy="564.2" r="2.9" fill="#5252b8"/>
<circle cx="170.4" cy="576.9" r="2.9" fill="#5252b8"/>
<circle cx="197.7" cy="562.6" r="2.9" fill="#5252b8"/>
<circle cx="203.7" cy="561.8" r="2.9" fill="#5252b8"/>
<circle cx="202.4" cy="572.1" r="2.9" fill="#5252b8"/>
<circle cx="206.4" cy="570.5" r="2.9" fill="#5252b8"/>
<circle cx="208.7" cy="573.7" r="2.9" fill="#5252b8"/>
<circle cx="216.7" cy="568.9" r="2.9" fill="#5252b8"/>
<circle cx="122.4" cy="586.4" r="2.9" fill="#5252b8"/>
<circle cx="129.5" cy="589.5" r="2.9" fill="#5252b8"/>
<circle cx="152.5" cy="583.2" r="2.9" fill="#5252b8"/>
<circle cx="162" cy="585.6" r="2.9" fill="#5252b8"/>
<circle cx="172.3" cy="582.4" r="2.9" fill="#5252b8"/>
<circle cx="178.6" cy="586.4" r="2.9" fill="#5252b8"/>
<circle cx="185.8" cy="584" r="2.9" fill="#5252b8"/>
<circle cx="199.2" cy="582.4" r="2.9" fill="#5252b8"/>
<circle cx="206.4" cy="581.6" r="2.9" fill="#5252b8"/>
<circle cx="207.2" cy="586.4" r="2.9" fill="#5252b8"/>
<circle cx="216.7" cy="587.2" r="2.9" fill="#5252b8"/>
<circle cx="155.6" cy="566" r="2.9" fill="#5252b8"/>
<circle cx="130.8" cy="571.8" r="2.9" fill="#5252b8"/>
<circle cx="140.3" cy="580.1" r="2.9" fill="#5252b8"/>
<circle cx="152.7" cy="583.8" r="2.9" fill="#5252b8"/>
<circle cx="110.4" cy="587.9" r="2.9" fill="#5252b8"/>
<circle cx="122.5" cy="587" r="2.9" fill="#5252b8"/>
<circle cx="129.3" cy="589.6" r="2.9" fill="#5252b8"/>
<circle cx="104.5" cy="594.7" r="2.9" fill="#5252b8"/>
<circle cx="118.4" cy="592.6" r="2.9" fill="#5252b8"/>
<circle cx="141" cy="595.5" r="2.9" fill="#5252b8"/>
<circle cx="153.4" cy="595.5" r="2.9" fill="#5252b8"/>
<circle cx="110.6" cy="587.6" r="2.9" fill="#5252b8"/>
<circle cx="122.3" cy="587.1" r="2.9" fill="#5252b8"/>
<circle cx="128" cy="574.8" r="2.9" fill="#5252b8"/>
<circle cx="129" cy="589.6" r="2.9" fill="#5252b8"/>
<circle cx="118.2" cy="592.7" r="2.9" fill="#5252b8"/>
<line x1="439.59" y1="612.39" x2="439.59" y2="614.65" stroke="#4d4d4d" stroke-width="3.0"/>
<line x1="441.74" y1="599.43" x2="441.74" y2="607.5" stroke="#4d4d4d" stroke-width="3.0"/>
<line x1="448.37" y1="604.95" x2="448.37" y2="610.43" stroke="#4d4d4d" stroke-width="3.0"/>
<line x1="450.03" y1="612.05" x2="450.03" y2="616.64" stroke="#4d4d4d" stroke-width="3.0"/>
<line x1="462.69" y1="585.75" x2="462.69" y2="595.07" stroke="#4d4d4d" stroke-width="3.0"/>
<line x1="462.42" y1="581.65" x2="462.42" y2="590.89" stroke="#4d4d4d" stroke-width="3.0"/>
<line x1="465.39" y1="581.62" x2="465.39" y2="594.07" stroke="#4d4d4d" stroke-width="3.0"/>
<line x1="465.28" y1="578.78" x2="465.28" y2="590.8" stroke="#4d4d4d" stroke-width="3.0"/>
<line x1="466.82" y1="602.92" x2="466.82" y2="606.29" stroke="#4d4d4d" stroke-width="3.0"/>
<line x1="466.67" y1="604.53" x2="466.67" y2="608.31" stroke="#4d4d4d" stroke-width="3.0"/>
<line x1="469.12" y1="574.18" x2="469.12" y2="585.25" stroke="#4d4d4d" stroke-width="3.0"/>
<line x1="469.6" y1="607.24" x2="469.6" y2="611.88" stroke="#4d4d4d" stroke-width="3.0"/>
<line x1="475.86" y1="563.56" x2="475.86" y2="576.97" stroke="#4d4d4d" stroke-width="3.0"/>
<line x1="476.98" y1="567.43" x2="476.98" y2="585.02" stroke="#4d4d4d" stroke-width="3.0"/>
<line x1="478.21" y1="593.73" x2="478.21" y2="604.05" stroke="#4d4d4d" stroke-width="3.0"/>
<line x1="479.95" y1="592.15" x2="479.95" y2="598.85" stroke="#4d4d4d" stroke-width="3.0"/>
<line x1="480.05" y1="588.82" x2="480.05" y2="599.43" stroke="#4d4d4d" stroke-width="3.0"/>
<line x1="481.27" y1="585.81" x2="481.27" y2="598.06" stroke="#4d4d4d" stroke-width="3.0"/>
<line x1="484.47" y1="600.1" x2="484.47" y2="606.71" stroke="#4d4d4d" stroke-width="3.0"/>
<line x1="484.44" y1="594.59" x2="484.44" y2="603.98" stroke="#4d4d4d" stroke-width="3.0"/>
<line x1="486.88" y1="559.79" x2="486.88" y2="570.84" stroke="#4d4d4d" stroke-width="3.0"/>
<line x1="485.97" y1="598.75" x2="485.97" y2="605.9" stroke="#4d4d4d" stroke-width="3.0"/>
<line x1="488.09" y1="605.16" x2="488.09" y2="610.93" stroke="#4d4d4d" stroke-width="3.0"/>
<line x1="488.74" y1="575.58" x2="488.74" y2="591.48" stroke="#4d4d4d" stroke-width="3.0"/>
<line x1="490.72" y1="570.65" x2="490.72" y2="579.18" stroke="#4d4d4d" stroke-width="3.0"/>
<line x1="491.29" y1="591.4" x2="491.29" y2="602.1" stroke="#4d4d4d" stroke-width="3.0"/>
<line x1="493.15" y1="570.27" x2="493.15" y2="581.96" stroke="#4d4d4d" stroke-width="3.0"/>
<line x1="493.39" y1="570.94" x2="493.39" y2="582.42" stroke="#4d4d4d" stroke-width="3.0"/>
<line x1="495.53" y1="604.22" x2="495.53" y2="611.01" stroke="#4d4d4d" stroke-width="3.0"/>
<line x1="496.19" y1="608.58" x2="496.19" y2="612.64" stroke="#4d4d4d" stroke-width="3.0"/>
<line x1="497.48" y1="591.23" x2="497.48" y2="599.41" stroke="#4d4d4d" stroke-width="3.0"/>
<line x1="500.83" y1="565.63" x2="500.83" y2="577.51" stroke="#4d4d4d" stroke-width="3.0"/>
<line x1="499.79" y1="596.38" x2="499.79" y2="601.64" stroke="#4d4d4d" stroke-width="3.0"/>
<line x1="502.94" y1="595.65" x2="502.94" y2="601.3" stroke="#4d4d4d" stroke-width="3.0"/>
<line x1="504.69" y1="583.89" x2="504.69" y2="590.41" stroke="#4d4d4d" stroke-width="3.0"/>
<line x1="507.69" y1="585.89" x2="507.69" y2="591.73" stroke="#4d4d4d" stroke-width="3.0"/>
<line x1="509.71" y1="551.68" x2="509.71" y2="565.1" stroke="#4d4d4d" stroke-width="3.0"/>
<line x1="510.29" y1="570.86" x2="510.29" y2="584.79" stroke="#4d4d4d" stroke-width="3.0"/>
<line x1="512.86" y1="550.13" x2="512.86" y2="572.81" stroke="#4d4d4d" stroke-width="3.0"/>
<line x1="512.49" y1="598.59" x2="512.49" y2="603.72" stroke="#4d4d4d" stroke-width="3.0"/>
<line x1="515.96" y1="575.28" x2="515.96" y2="585.49" stroke="#4d4d4d" stroke-width="3.0"/>
<line x1="515.97" y1="543.32" x2="515.97" y2="565.51" stroke="#4d4d4d" stroke-width="3.0"/>
<line x1="517.63" y1="594.71" x2="517.63" y2="599.36" stroke="#4d4d4d" stroke-width="3.0"/>
<line x1="517.46" y1="559.17" x2="517.46" y2="572.24" stroke="#4d4d4d" stroke-width="3.0"/>
<line x1="520.76" y1="572.91" x2="520.76" y2="584.12" stroke="#4d4d4d" stroke-width="3.0"/>
<line x1="521.39" y1="559.48" x2="521.39" y2="579.46" stroke="#4d4d4d" stroke-width="3.0"/>
<line x1="523.63" y1="593.36" x2="523.63" y2="599.95" stroke="#4d4d4d" stroke-width="3.0"/>
<line x1="523.39" y1="571.49" x2="523.39" y2="583.87" stroke="#4d4d4d" stroke-width="3.0"/>
<line x1="526.69" y1="561.2" x2="526.69" y2="576.44" stroke="#4d4d4d" stroke-width="3.0"/>
<line x1="525.6" y1="586" x2="525.6" y2="593.75" stroke="#4d4d4d" stroke-width="3.0"/>
<line x1="529.19" y1="574.08" x2="529.19" y2="582.67" stroke="#4d4d4d" stroke-width="3.0"/>
<line x1="528.02" y1="598.63" x2="528.02" y2="603.32" stroke="#4d4d4d" stroke-width="3.0"/>
<line x1="530.68" y1="546.87" x2="530.68" y2="563.81" stroke="#4d4d4d" stroke-width="3.0"/>
<line x1="534.49" y1="567.17" x2="534.49" y2="586.46" stroke="#4d4d4d" stroke-width="3.0"/>
<line x1="536.88" y1="592.28" x2="536.88" y2="599.36" stroke="#4d4d4d" stroke-width="3.0"/>
<line x1="537.44" y1="551.71" x2="537.44" y2="566.56" stroke="#4d4d4d" stroke-width="3.0"/>
<line x1="539.12" y1="539.29" x2="539.12" y2="563.93" stroke="#4d4d4d" stroke-width="3.0"/>
<line x1="540.86" y1="572.93" x2="540.86" y2="580.08" stroke="#4d4d4d" stroke-width="3.0"/>
<line x1="541.69" y1="549.13" x2="541.69" y2="573.22" stroke="#4d4d4d" stroke-width="3.0"/>
<line x1="543.23" y1="567.38" x2="543.23" y2="585.62" stroke="#4d4d4d" stroke-width="3.0"/>
<line x1="544.33" y1="576.47" x2="544.33" y2="589.46" stroke="#4d4d4d" stroke-width="3.0"/>
<line x1="546.09" y1="536.91" x2="546.09" y2="564.5" stroke="#4d4d4d" stroke-width="3.0"/>
<line x1="546.37" y1="566.09" x2="546.37" y2="580.73" stroke="#4d4d4d" stroke-width="3.0"/>
<line x1="548.11" y1="586.7" x2="548.11" y2="596.56" stroke="#4d4d4d" stroke-width="3.0"/>
<line x1="548.18" y1="581.1" x2="548.18" y2="592.65" stroke="#4d4d4d" stroke-width="3.0"/>
<line x1="551.4" y1="537.17" x2="551.4" y2="560.86" stroke="#4d4d4d" stroke-width="3.0"/>
<line x1="552.28" y1="585.13" x2="552.28" y2="591.45" stroke="#4d4d4d" stroke-width="3.0"/>
<line x1="553.21" y1="585.42" x2="553.21" y2="597.1" stroke="#4d4d4d" stroke-width="3.0"/>
<line x1="555.14" y1="535.63" x2="555.14" y2="549.8" stroke="#4d4d4d" stroke-width="3.0"/>
<line x1="555.71" y1="579.51" x2="555.71" y2="589.45" stroke="#4d4d4d" stroke-width="3.0"/>
<line x1="558.33" y1="583.97" x2="558.33" y2="594.8" stroke="#4d4d4d" stroke-width="3.0"/>
<line x1="559.24" y1="555.21" x2="559.24" y2="578.18" stroke="#4d4d4d" stroke-width="3.0"/>
<line x1="561.1" y1="566.12" x2="561.1" y2="583.12" stroke="#4d4d4d" stroke-width="3.0"/>
<line x1="563.32" y1="572.55" x2="563.32" y2="583.56" stroke="#4d4d4d" stroke-width="3.0"/>
<line x1="565.26" y1="575.49" x2="565.26" y2="583.33" stroke="#4d4d4d" stroke-width="3.0"/>
<line x1="568.9" y1="544.46" x2="568.9" y2="555.49" stroke="#4d4d4d" stroke-width="3.0"/>
<line x1="571.54" y1="588.67" x2="571.54" y2="595.45" stroke="#4d4d4d" stroke-width="3.0"/>
<line x1="573.03" y1="560.84" x2="573.03" y2="570.34" stroke="#4d4d4d" stroke-width="3.0"/>
<line x1="576.52" y1="590.06" x2="576.52" y2="595.07" stroke="#4d4d4d" stroke-width="3.0"/>
<line x1="583.99" y1="550.56" x2="583.99" y2="562.72" stroke="#4d4d4d" stroke-width="3.0"/>
<line x1="459" y1="548.6" x2="459" y2="563.3" stroke="#4d4d4d" stroke-width="3.0"/>
<line x1="454.9" y1="572.5" x2="454.9" y2="581.7" stroke="#4d4d4d" stroke-width="3.0"/>
<line x1="482.7" y1="537" x2="482.7" y2="554.7" stroke="#4d4d4d" stroke-width="3.0"/>
<line x1="474.5" y1="565.7" x2="474.5" y2="582.9" stroke="#4d4d4d" stroke-width="3.0"/>
<line x1="494.7" y1="566" x2="494.7" y2="582" stroke="#4d4d4d" stroke-width="3.0"/>
<line x1="512.1" y1="496" x2="512.1" y2="531.6" stroke="#4d4d4d" stroke-width="3.0"/>
<line x1="532.3" y1="483.8" x2="532.3" y2="507.6" stroke="#4d4d4d" stroke-width="3.0"/>
<line x1="583.4" y1="481.3" x2="583.4" y2="526.2" stroke="#4d4d4d" stroke-width="3.0"/>
<line x1="576.6" y1="463.1" x2="576.6" y2="519.9" stroke="#4d4d4d" stroke-width="3.0"/>
<line x1="611.5" y1="476.5" x2="611.5" y2="528.3" stroke="#4d4d4d" stroke-width="3.0"/>
<line x1="645.2" y1="493.4" x2="645.2" y2="522" stroke="#4d4d4d" stroke-width="3.0"/>
<line x1="551.6" y1="526.2" x2="551.6" y2="545.3" stroke="#4d4d4d" stroke-width="3.0"/>
<line x1="565.4" y1="519.9" x2="565.4" y2="534.7" stroke="#4d4d4d" stroke-width="3.0"/>
<line x1="569.6" y1="523" x2="569.6" y2="535" stroke="#4d4d4d" stroke-width="3.0"/>
<line x1="578.1" y1="511.4" x2="578.1" y2="523" stroke="#4d4d4d" stroke-width="3.0"/>
<line x1="602.4" y1="505" x2="602.4" y2="519.9" stroke="#4d4d4d" stroke-width="3.0"/>
<line x1="606.7" y1="519.9" x2="606.7" y2="543.1" stroke="#4d4d4d" stroke-width="3.0"/>
<line x1="616.6" y1="515.6" x2="616.6" y2="545.3" stroke="#4d4d4d" stroke-width="3.0"/>
<line x1="632.1" y1="524" x2="632.1" y2="543.1" stroke="#4d4d4d" stroke-width="3.0"/>
<line x1="650" y1="530.4" x2="650" y2="549.5" stroke="#4d4d4d" stroke-width="3.0"/>
<line x1="658.5" y1="541" x2="658.5" y2="553.7" stroke="#4d4d4d" stroke-width="3.0"/>
<line x1="587.6" y1="541" x2="587.6" y2="560" stroke="#4d4d4d" stroke-width="3.0"/>
<line x1="512.4" y1="496.5" x2="512.4" y2="531.6" stroke="#4d4d4d" stroke-width="3.0"/>
<line x1="521.5" y1="517.4" x2="521.5" y2="539.2" stroke="#4d4d4d" stroke-width="3.0"/>
<line x1="494.4" y1="517.4" x2="494.4" y2="546.8" stroke="#4d4d4d" stroke-width="3.0"/>
<line x1="482.6" y1="537.3" x2="482.6" y2="552" stroke="#4d4d4d" stroke-width="3.0"/>
<line x1="458.9" y1="548.7" x2="458.9" y2="560" stroke="#4d4d4d" stroke-width="3.0"/>
<line x1="510.7" y1="541.1" x2="510.7" y2="556" stroke="#4d4d4d" stroke-width="3.0"/>
<line x1="538" y1="532.6" x2="538" y2="548.7" stroke="#4d4d4d" stroke-width="3.0"/>
<line x1="658.5" y1="541.5" x2="658.5" y2="555.3" stroke="#4d4d4d" stroke-width="3.0"/>
<line x1="619.5" y1="566.8" x2="619.5" y2="580.6" stroke="#4d4d4d" stroke-width="3.0"/>
<line x1="623.7" y1="551.5" x2="623.7" y2="562.2" stroke="#4d4d4d" stroke-width="3.0"/>
<line x1="589.2" y1="560.7" x2="589.2" y2="579" stroke="#4d4d4d" stroke-width="3.0"/>
<line x1="586.9" y1="542.3" x2="586.9" y2="556" stroke="#4d4d4d" stroke-width="3.0"/>
<line x1="599.9" y1="533" x2="599.9" y2="549.9" stroke="#4d4d4d" stroke-width="3.0"/>
<line x1="648.7" y1="528" x2="648.7" y2="548.4" stroke="#4d4d4d" stroke-width="3.0"/>
<line x1="467.8" y1="562" x2="467.8" y2="575" stroke="#4d4d4d" stroke-width="3.0"/>
<line x1="576.8" y1="480" x2="576.8" y2="519.7" stroke="#4d4d4d" stroke-width="3.0"/>
<line x1="579.5" y1="508" x2="579.5" y2="519.7" stroke="#4d4d4d" stroke-width="3.0"/>
<line x1="581.5" y1="508" x2="581.5" y2="520" stroke="#4d4d4d" stroke-width="3.0"/>
<line x1="583.4" y1="481.2" x2="583.4" y2="529" stroke="#4d4d4d" stroke-width="3.0"/>
<line x1="611.2" y1="480" x2="611.2" y2="527.9" stroke="#4d4d4d" stroke-width="3.0"/>
<line x1="551.1" y1="526.7" x2="551.1" y2="548.9" stroke="#4d4d4d" stroke-width="3.0"/>
<line x1="565.1" y1="520.3" x2="565.1" y2="534.9" stroke="#4d4d4d" stroke-width="3.0"/>
<line x1="569.2" y1="520.3" x2="569.2" y2="534.9" stroke="#4d4d4d" stroke-width="3.0"/>
<line x1="591.2" y1="505.1" x2="591.2" y2="520" stroke="#4d4d4d" stroke-width="3.0"/>
<line x1="601.9" y1="504.5" x2="601.9" y2="531.4" stroke="#4d4d4d" stroke-width="3.0"/>
<line x1="606.6" y1="518.5" x2="606.6" y2="543.6" stroke="#4d4d4d" stroke-width="3.0"/>
<line x1="616.8" y1="515.6" x2="616.8" y2="540.7" stroke="#4d4d4d" stroke-width="3.0"/>
<line x1="600.7" y1="532" x2="600.7" y2="550" stroke="#4d4d4d" stroke-width="3.0"/>
<line x1="587.3" y1="536" x2="587.3" y2="557" stroke="#4d4d4d" stroke-width="3.0"/>
<line x1="581.5" y1="552.4" x2="581.5" y2="562" stroke="#4d4d4d" stroke-width="3.0"/>
<path d="M436.19,615.61L442.99,615.61L439.59,609.72Z" fill="#383838"/>
<path d="M438.34,605.87L445.14,605.87L441.74,599.98Z" fill="#383838"/>
<path d="M444.97,609.96L451.77,609.96L448.37,604.07Z" fill="#383838"/>
<path d="M446.63,616.56L453.43,616.56L450.03,610.67Z" fill="#383838"/>
<path d="M459.29,592.89L466.09,592.89L462.69,587Z" fill="#383838"/>
<path d="M459.02,588.74L465.82,588.74L462.42,582.85Z" fill="#383838"/>
<path d="M461.99,590.5L468.79,590.5L465.39,584.61Z" fill="#383838"/>
<path d="M461.88,587.42L468.68,587.42L465.28,581.53Z" fill="#383838"/>
<path d="M463.42,606.75L470.22,606.75L466.82,600.87Z" fill="#383838"/>
<path d="M463.27,608.59L470.07,608.59L466.67,602.7Z" fill="#383838"/>
<path d="M465.72,582.29L472.52,582.29L469.12,576.4Z" fill="#383838"/>
<path d="M466.2,611.78L473,611.78L469.6,605.89Z" fill="#383838"/>
<path d="M472.46,572.97L479.26,572.97L475.86,567.08Z" fill="#383838"/>
<path d="M473.58,579.16L480.38,579.16L476.98,573.27Z" fill="#383838"/>
<path d="M474.81,601.42L481.61,601.42L478.21,595.53Z" fill="#383838"/>
<path d="M476.55,597.84L483.35,597.84L479.95,591.95Z" fill="#383838"/>
<path d="M476.65,596.67L483.45,596.67L480.05,590.79Z" fill="#383838"/>
<path d="M477.87,594.58L484.67,594.58L481.27,588.69Z" fill="#383838"/>
<path d="M481.07,605.73L487.87,605.73L484.47,599.85Z" fill="#383838"/>
<path d="M481.04,601.77L487.84,601.77L484.44,595.88Z" fill="#383838"/>
<path d="M483.48,567.89L490.28,567.89L486.88,562Z" fill="#383838"/>
<path d="M482.57,604.68L489.37,604.68L485.97,598.8Z" fill="#383838"/>
<path d="M484.69,610.33L491.49,610.33L488.09,604.44Z" fill="#383838"/>
<path d="M485.34,586.37L492.14,586.37L488.74,580.49Z" fill="#383838"/>
<path d="M487.32,577.35L494.12,577.35L490.72,571.46Z" fill="#383838"/>
<path d="M487.89,599.31L494.69,599.31L491.29,593.42Z" fill="#383838"/>
<path d="M489.75,578.73L496.55,578.73L493.15,572.84Z" fill="#383838"/>
<path d="M489.99,579.28L496.79,579.28L493.39,573.39Z" fill="#383838"/>
<path d="M492.13,609.96L498.93,609.96L495.53,604.07Z" fill="#383838"/>
<path d="M492.79,612.8L499.59,612.8L496.19,606.91Z" fill="#383838"/>
<path d="M494.08,597.74L500.88,597.74L497.48,591.85Z" fill="#383838"/>
<path d="M497.43,574.19L504.23,574.19L500.83,568.3Z" fill="#383838"/>
<path d="M496.39,601.27L503.19,601.27L499.79,595.38Z" fill="#383838"/>
<path d="M499.54,600.75L506.34,600.75L502.94,594.86Z" fill="#383838"/>
<path d="M501.29,589.48L508.09,589.48L504.69,583.59Z" fill="#383838"/>
<path d="M504.29,591.1L511.09,591.1L507.69,585.21Z" fill="#383838"/>
<path d="M506.31,561.1L513.11,561.1L509.71,555.21Z" fill="#383838"/>
<path d="M506.89,580.56L513.69,580.56L510.29,574.67Z" fill="#383838"/>
<path d="M509.46,564.69L516.26,564.69L512.86,558.81Z" fill="#383838"/>
<path d="M509.09,603.4L515.89,603.4L512.49,597.51Z" fill="#383838"/>
<path d="M512.56,582.91L519.36,582.91L515.96,577.02Z" fill="#383838"/>
<path d="M512.57,557.61L519.37,557.61L515.97,551.72Z" fill="#383838"/>
<path d="M514.23,599.26L521.03,599.26L517.63,593.37Z" fill="#383838"/>
<path d="M514.06,568.39L520.86,568.39L517.46,562.51Z" fill="#383838"/>
<path d="M517.36,581.1L524.16,581.1L520.76,575.21Z" fill="#383838"/>
<path d="M517.99,572.54L524.79,572.54L521.39,566.65Z" fill="#383838"/>
<path d="M520.23,598.99L527.03,598.99L523.63,593.1Z" fill="#383838"/>
<path d="M519.99,580.33L526.79,580.33L523.39,574.44Z" fill="#383838"/>
<path d="M523.29,571.63L530.09,571.63L526.69,565.74Z" fill="#383838"/>
<path d="M522.2,592.27L529,592.27L525.6,586.38Z" fill="#383838"/>
<path d="M525.79,580.81L532.59,580.81L529.19,574.92Z" fill="#383838"/>
<path d="M524.62,603.2L531.42,603.2L528.02,597.31Z" fill="#383838"/>
<path d="M527.28,558.24L534.08,558.24L530.68,552.35Z" fill="#383838"/>
<path d="M531.09,579.85L537.89,579.85L534.49,573.96Z" fill="#383838"/>
<path d="M533.48,598.18L540.28,598.18L536.88,592.29Z" fill="#383838"/>
<path d="M534.04,561.92L540.84,561.92L537.44,556.03Z" fill="#383838"/>
<path d="M535.72,554.95L542.52,554.95L539.12,549.06Z" fill="#383838"/>
<path d="M537.46,578.87L544.26,578.87L540.86,572.98Z" fill="#383838"/>
<path d="M538.29,564.48L545.09,564.48L541.69,558.59Z" fill="#383838"/>
<path d="M539.83,579.48L546.63,579.48L543.23,573.59Z" fill="#383838"/>
<path d="M540.93,585.65L547.73,585.65L544.33,579.76Z" fill="#383838"/>
<path d="M542.69,554.2L549.49,554.2L546.09,548.31Z" fill="#383838"/>
<path d="M542.97,576.19L549.77,576.19L546.37,570.3Z" fill="#383838"/>
<path d="M544.71,594.14L551.51,594.14L548.11,588.25Z" fill="#383838"/>
<path d="M544.78,589.48L551.58,589.48L548.18,583.59Z" fill="#383838"/>
<path d="M548,552.29L554.8,552.29L551.4,546.4Z" fill="#383838"/>
<path d="M548.88,590.6L555.68,590.6L552.28,584.71Z" fill="#383838"/>
<path d="M549.81,593.87L556.61,593.87L553.21,587.98Z" fill="#383838"/>
<path d="M551.74,545.46L558.54,545.46L555.14,539.58Z" fill="#383838"/>
<path d="M552.31,587L559.11,587L555.71,581.11Z" fill="#383838"/>
<path d="M554.93,591.95L561.73,591.95L558.33,586.06Z" fill="#383838"/>
<path d="M555.84,569.93L562.64,569.93L559.24,564.04Z" fill="#383838"/>
<path d="M557.7,577.53L564.5,577.53L561.1,571.64Z" fill="#383838"/>
<path d="M559.92,580.63L566.72,580.63L563.32,574.74Z" fill="#383838"/>
<path d="M561.86,581.81L568.66,581.81L565.26,575.92Z" fill="#383838"/>
<path d="M565.5,552.55L572.3,552.55L568.9,546.66Z" fill="#383838"/>
<path d="M568.14,594.4L574.94,594.4L571.54,588.51Z" fill="#383838"/>
<path d="M569.63,568.08L576.43,568.08L573.03,562.2Z" fill="#383838"/>
<path d="M573.12,594.81L579.92,594.81L576.52,588.92Z" fill="#383838"/>
<path d="M580.59,559.27L587.39,559.27L583.99,553.39Z" fill="#383838"/>
<path d="M455.6,557.86L462.4,557.86L459,551.97Z" fill="#383838"/>
<path d="M451.5,579.96L458.3,579.96L454.9,574.07Z" fill="#383838"/>
<path d="M479.3,546.86L486.1,546.86L482.7,540.97Z" fill="#383838"/>
<path d="M471.1,573.86L477.9,573.86L474.5,567.97Z" fill="#383838"/>
<path d="M491.3,576.26L498.1,576.26L494.7,570.37Z" fill="#383838"/>
<path d="M508.7,519.06L515.5,519.06L512.1,513.17Z" fill="#383838"/>
<path d="M528.9,505.56L535.7,505.56L532.3,499.67Z" fill="#383838"/>
<path d="M580,500.96L586.8,500.96L583.4,495.07Z" fill="#383838"/>
<path d="M580,513.36L586.8,513.36L583.4,507.47Z" fill="#383838"/>
<path d="M573.2,503.86L580,503.86L576.6,497.97Z" fill="#383838"/>
<path d="M608.1,503.86L614.9,503.86L611.5,497.97Z" fill="#383838"/>
<path d="M608.1,508.06L614.9,508.06L611.5,502.17Z" fill="#383838"/>
<path d="M641.8,512.26L648.6,512.26L645.2,506.37Z" fill="#383838"/>
<path d="M548.2,538.76L555,538.76L551.6,532.87Z" fill="#383838"/>
<path d="M562,529.96L568.8,529.96L565.4,524.07Z" fill="#383838"/>
<path d="M566.2,530.96L573,530.96L569.6,525.07Z" fill="#383838"/>
<path d="M574.7,518.96L581.5,518.96L578.1,513.07Z" fill="#383838"/>
<path d="M599,513.96L605.8,513.96L602.4,508.07Z" fill="#383838"/>
<path d="M603.3,533.46L610.1,533.46L606.7,527.57Z" fill="#383838"/>
<path d="M613.2,531.96L620,531.96L616.6,526.07Z" fill="#383838"/>
<path d="M628.7,534.96L635.5,534.96L632.1,529.07Z" fill="#383838"/>
<path d="M646.6,541.96L653.4,541.96L650,536.07Z" fill="#383838"/>
<path d="M655.1,550.36L661.9,550.36L658.5,544.47Z" fill="#383838"/>
<path d="M584.2,549.36L591,549.36L587.6,543.47Z" fill="#383838"/>
<path d="M620.2,556.76L627,556.76L623.6,550.87Z" fill="#383838"/>
<path d="M509,518.36L515.8,518.36L512.4,512.47Z" fill="#383838"/>
<path d="M518.1,533.56L524.9,533.56L521.5,527.67Z" fill="#383838"/>
<path d="M491,530.76L497.8,530.76L494.4,524.87Z" fill="#383838"/>
<path d="M479.2,545.96L486,545.96L482.6,540.07Z" fill="#383838"/>
<path d="M455.5,555.96L462.3,555.96L458.9,550.07Z" fill="#383838"/>
<path d="M507.3,551.56L514.1,551.56L510.7,545.67Z" fill="#383838"/>
<path d="M534.6,546.86L541.4,546.86L538,540.97Z" fill="#383838"/>
<path d="M655.1,549.56L661.9,549.56L658.5,543.67Z" fill="#383838"/>
<path d="M582.7,598.66L589.5,598.66L586.1,592.77Z" fill="#383838"/>
<path d="M616.1,576.46L622.9,576.46L619.5,570.57Z" fill="#383838"/>
<path d="M620.3,557.26L627.1,557.26L623.7,551.37Z" fill="#383838"/>
<path d="M616.1,564.16L622.9,564.16L619.5,558.27Z" fill="#383838"/>
<path d="M585.8,567.96L592.6,567.96L589.2,562.07Z" fill="#383838"/>
<path d="M585,575.66L591.8,575.66L588.4,569.77Z" fill="#383838"/>
<path d="M588.9,574.86L595.7,574.86L592.3,568.97Z" fill="#383838"/>
<path d="M583.5,551.86L590.3,551.86L586.9,545.97Z" fill="#383838"/>
<path d="M596.5,539.66L603.3,539.66L599.9,533.77Z" fill="#383838"/>
<path d="M603,533.46L609.8,533.46L606.4,527.57Z" fill="#383838"/>
<path d="M645.3,538.06L652.1,538.06L648.7,532.17Z" fill="#383838"/>
<path d="M464.4,570.16L471.2,570.16L467.8,564.27Z" fill="#383838"/>
<path d="M573.4,511.96L580.2,511.96L576.8,506.07Z" fill="#383838"/>
<path d="M576.1,513.96L582.9,513.96L579.5,508.07Z" fill="#383838"/>
<path d="M578.1,515.96L584.9,515.96L581.5,510.07Z" fill="#383838"/>
<path d="M580,499.46L586.8,499.46L583.4,493.57Z" fill="#383838"/>
<path d="M580,512.96L586.8,512.96L583.4,507.07Z" fill="#383838"/>
<path d="M607.8,504.16L614.6,504.16L611.2,498.27Z" fill="#383838"/>
<path d="M607.8,509.36L614.6,509.36L611.2,503.47Z" fill="#383838"/>
<path d="M547.7,540.36L554.5,540.36L551.1,534.47Z" fill="#383838"/>
<path d="M561.7,534.96L568.5,534.96L565.1,529.07Z" fill="#383838"/>
<path d="M565.8,534.96L572.6,534.96L569.2,529.07Z" fill="#383838"/>
<path d="M587.8,513.96L594.6,513.96L591.2,508.07Z" fill="#383838"/>
<path d="M598.5,520.46L605.3,520.46L601.9,514.57Z" fill="#383838"/>
<path d="M603.2,533.96L610,533.96L606.6,528.07Z" fill="#383838"/>
<path d="M613.4,529.96L620.2,529.96L616.8,524.07Z" fill="#383838"/>
<path d="M597.3,540.36L604.1,540.36L600.7,534.47Z" fill="#383838"/>
<path d="M583.9,551.96L590.7,551.96L587.3,546.07Z" fill="#383838"/>
<path d="M578.1,557.96L584.9,557.96L581.5,552.07Z" fill="#383838"/>
<rect x="431" y="617.1" width="5.4" height="5.4" fill="#cc1111"/>
<rect x="433.29" y="617.1" width="5.4" height="5.4" fill="#cc1111"/>
<rect x="435.95" y="617.1" width="5.4" height="5.4" fill="#cc1111"/>
<rect x="439.22" y="617.1" width="5.4" height="5.4" fill="#cc1111"/>
<rect x="442.49" y="617.1" width="5.4" height="5.4" fill="#cc1111"/>
<rect x="444.92" y="617.1" width="5.4" height="5.4" fill="#cc1111"/>
<rect x="447.14" y="617.1" width="5.4" height="5.4" fill="#cc1111"/>
<rect x="450.34" y="617.1" width="5.4" height="5.4" fill="#cc1111"/>
<rect x="453.69" y="617.1" width="5.4" height="5.4" fill="#cc1111"/>
<rect x="456.61" y="617.1" width="5.4" height="5.4" fill="#cc1111"/>
<rect x="458.97" y="617.1" width="5.4" height="5.4" fill="#cc1111"/>
<rect x="461.46" y="617.1" width="5.4" height="5.4" fill="#cc1111"/>
<rect x="464.76" y="617.1" width="5.4" height="5.4" fill="#cc1111"/>
<rect x="468.09" y="617.1" width="5.4" height="5.4" fill="#cc1111"/>
<rect x="470.32" y="617.1" width="5.4" height="5.4" fill="#cc1111"/>
<rect x="472.74" y="617.1" width="5.4" height="5.4" fill="#cc1111"/>
<rect x="475.46" y="617.1" width="5.4" height="5.4" fill="#cc1111"/>
<rect x="477.98" y="617.1" width="5.4" height="5.4" fill="#cc1111"/>
<rect x="481.08" y="617.1" width="5.4" height="5.4" fill="#cc1111"/>
<rect x="483.73" y="617.1" width="5.4" height="5.4" fill="#cc1111"/>
<rect x="486.86" y="617.1" width="5.4" height="5.4" fill="#cc1111"/>
<rect x="489.24" y="617.1" width="5.4" height="5.4" fill="#cc1111"/>
<rect x="492.07" y="617.1" width="5.4" height="5.4" fill="#cc1111"/>
<rect x="495.44" y="617.1" width="5.4" height="5.4" fill="#cc1111"/>
<rect x="498.48" y="617.1" width="5.4" height="5.4" fill="#cc1111"/>
<rect x="500.79" y="617.1" width="5.4" height="5.4" fill="#cc1111"/>
<rect x="503.12" y="617.1" width="5.4" height="5.4" fill="#cc1111"/>
<rect x="506.09" y="617.1" width="5.4" height="5.4" fill="#cc1111"/>
<rect x="508.74" y="617.1" width="5.4" height="5.4" fill="#cc1111"/>
<rect x="511.38" y="617.1" width="5.4" height="5.4" fill="#cc1111"/>
<rect x="514.16" y="617.1" width="5.4" height="5.4" fill="#cc1111"/>
<rect x="517.06" y="617.1" width="5.4" height="5.4" fill="#cc1111"/>
<rect x="520.41" y="617.1" width="5.4" height="5.4" fill="#cc1111"/>
<rect x="522.9" y="617.1" width="5.4" height="5.4" fill="#cc1111"/>
<rect x="525.79" y="617.1" width="5.4" height="5.4" fill="#cc1111"/>
<rect x="528.3" y="617.1" width="5.4" height="5.4" fill="#cc1111"/>
<rect x="531.16" y="617.1" width="5.4" height="5.4" fill="#cc1111"/>
<rect x="534.23" y="617.1" width="5.4" height="5.4" fill="#cc1111"/>
<rect x="536.59" y="617.1" width="5.4" height="5.4" fill="#cc1111"/>
<rect x="539.37" y="617.1" width="5.4" height="5.4" fill="#cc1111"/>
<rect x="542.42" y="617.1" width="5.4" height="5.4" fill="#cc1111"/>
<rect x="544.63" y="617.1" width="5.4" height="5.4" fill="#cc1111"/>
<rect x="547.75" y="617.1" width="5.4" height="5.4" fill="#cc1111"/>
<rect x="550.46" y="617.1" width="5.4" height="5.4" fill="#cc1111"/>
<rect x="553.26" y="617.1" width="5.4" height="5.4" fill="#cc1111"/>
<rect x="556.19" y="617.1" width="5.4" height="5.4" fill="#cc1111"/>
<rect x="558.44" y="617.1" width="5.4" height="5.4" fill="#cc1111"/>
<rect x="564.84" y="617.1" width="5.4" height="5.4" fill="#cc1111"/>
<rect x="567.11" y="617.1" width="5.4" height="5.4" fill="#cc1111"/>
<rect x="569.91" y="617.1" width="5.4" height="5.4" fill="#cc1111"/>
<rect x="572.16" y="617.1" width="5.4" height="5.4" fill="#cc1111"/>
<rect x="574.82" y="617.1" width="5.4" height="5.4" fill="#cc1111"/>
<rect x="577.43" y="617.1" width="5.4" height="5.4" fill="#cc1111"/>
<rect x="579.66" y="617.1" width="5.4" height="5.4" fill="#cc1111"/>
<rect x="582.22" y="617.1" width="5.4" height="5.4" fill="#cc1111"/>
<rect x="582.93" y="617.1" width="5.4" height="5.4" fill="#cc1111"/>
<rect x="589.33" y="617.1" width="5.4" height="5.4" fill="#cc1111"/>
<rect x="592.32" y="617.1" width="5.4" height="5.4" fill="#cc1111"/>
<rect x="595.63" y="617.1" width="5.4" height="5.4" fill="#cc1111"/>
<rect x="598.27" y="617.1" width="5.4" height="5.4" fill="#cc1111"/>
<rect x="601.11" y="617.1" width="5.4" height="5.4" fill="#cc1111"/>
<rect x="602.44" y="617.1" width="5.4" height="5.4" fill="#cc1111"/>
<rect x="608.84" y="617.1" width="5.4" height="5.4" fill="#cc1111"/>
<rect x="611.7" y="617.1" width="5.4" height="5.4" fill="#cc1111"/>
<rect x="626" y="617.2" width="5.2" height="5.2" fill="#cc1111"/>
<rect x="628.6" y="617.2" width="5.2" height="5.2" fill="#cc1111"/>
<rect x="637.9" y="617.2" width="5.2" height="5.2" fill="#cc1111"/>
<rect x="647.3" y="617.2" width="5.2" height="5.2" fill="#cc1111"/>
<rect x="662.7" y="617.2" width="5.2" height="5.2" fill="#cc1111"/>
<circle cx="425.5" cy="619.5" r="2.7" fill="#c4c4c4" stroke="#7a7a7a" stroke-width="1"/>
<line x1="433.71" y1="611.05" x2="433.71" y2="615.68" stroke="#b4b4fb" stroke-width="3.2"/>
<line x1="432.94" y1="611.3" x2="432.94" y2="613.48" stroke="#b4b4fb" stroke-width="3.2"/>
<line x1="436.13" y1="612.65" x2="436.13" y2="615.29" stroke="#b4b4fb" stroke-width="3.2"/>
<line x1="435.71" y1="615.3" x2="435.71" y2="617.34" stroke="#b4b4fb" stroke-width="3.2"/>
<line x1="437.49" y1="614.12" x2="437.49" y2="617.39" stroke="#b4b4fb" stroke-width="3.2"/>
<line x1="437.63" y1="607.03" x2="437.63" y2="610.63" stroke="#b4b4fb" stroke-width="3.2"/>
<line x1="441" y1="608.35" x2="441" y2="611.68" stroke="#b4b4fb" stroke-width="3.2"/>
<line x1="439.97" y1="601.38" x2="439.97" y2="609.46" stroke="#b4b4fb" stroke-width="3.2"/>
<line x1="442.25" y1="614.48" x2="442.25" y2="617.79" stroke="#b4b4fb" stroke-width="3.2"/>
<line x1="442.22" y1="603.58" x2="442.22" y2="609.13" stroke="#b4b4fb" stroke-width="3.2"/>
<line x1="443.27" y1="606.97" x2="443.27" y2="609.92" stroke="#b4b4fb" stroke-width="3.2"/>
<line x1="444.69" y1="608" x2="444.69" y2="610.59" stroke="#b4b4fb" stroke-width="3.2"/>
<line x1="445.82" y1="598.98" x2="445.82" y2="604.03" stroke="#b4b4fb" stroke-width="3.2"/>
<line x1="447.07" y1="606.51" x2="447.07" y2="612.48" stroke="#b4b4fb" stroke-width="3.2"/>
<line x1="446.96" y1="599.5" x2="446.96" y2="608.03" stroke="#b4b4fb" stroke-width="3.2"/>
<line x1="449.46" y1="611.27" x2="449.46" y2="614.41" stroke="#b4b4fb" stroke-width="3.2"/>
<line x1="450.77" y1="613.06" x2="450.77" y2="616.81" stroke="#b4b4fb" stroke-width="3.2"/>
<line x1="452.27" y1="603.19" x2="452.27" y2="610.39" stroke="#b4b4fb" stroke-width="3.2"/>
<line x1="451.59" y1="613.59" x2="451.59" y2="617.72" stroke="#b4b4fb" stroke-width="3.2"/>
<line x1="452.71" y1="598.51" x2="452.71" y2="603.24" stroke="#b4b4fb" stroke-width="3.2"/>
<line x1="454.46" y1="613.74" x2="454.46" y2="616.65" stroke="#b4b4fb" stroke-width="3.2"/>
<line x1="455.82" y1="610.65" x2="455.82" y2="614.36" stroke="#b4b4fb" stroke-width="3.2"/>
<line x1="455" y1="591.04" x2="455" y2="599.5" stroke="#b4b4fb" stroke-width="3.2"/>
<line x1="457.3" y1="608.56" x2="457.3" y2="611.62" stroke="#b4b4fb" stroke-width="3.2"/>
<line x1="460.44" y1="614.01" x2="460.44" y2="616.45" stroke="#b4b4fb" stroke-width="3.2"/>
<line x1="460.43" y1="607.65" x2="460.43" y2="613.3" stroke="#b4b4fb" stroke-width="3.2"/>
<line x1="459.77" y1="598.36" x2="459.77" y2="606.74" stroke="#b4b4fb" stroke-width="3.2"/>
<line x1="461.86" y1="593.77" x2="461.86" y2="603.11" stroke="#b4b4fb" stroke-width="3.2"/>
<line x1="462.26" y1="602.88" x2="462.26" y2="606.22" stroke="#b4b4fb" stroke-width="3.2"/>
<line x1="465.61" y1="606.53" x2="465.61" y2="612.74" stroke="#b4b4fb" stroke-width="3.2"/>
<line x1="465.05" y1="582.13" x2="465.05" y2="597.04" stroke="#b4b4fb" stroke-width="3.2"/>
<line x1="465.72" y1="610.92" x2="465.72" y2="615.71" stroke="#b4b4fb" stroke-width="3.2"/>
<line x1="467.76" y1="591.43" x2="467.76" y2="601.08" stroke="#b4b4fb" stroke-width="3.2"/>
<line x1="467.65" y1="611.35" x2="467.65" y2="614.86" stroke="#b4b4fb" stroke-width="3.2"/>
<line x1="466.68" y1="595.06" x2="466.68" y2="603.66" stroke="#b4b4fb" stroke-width="3.2"/>
<line x1="469.44" y1="597.14" x2="469.44" y2="604.93" stroke="#b4b4fb" stroke-width="3.2"/>
<line x1="469.72" y1="605.19" x2="469.72" y2="609.45" stroke="#b4b4fb" stroke-width="3.2"/>
<line x1="472.7" y1="602.49" x2="472.7" y2="609.86" stroke="#b4b4fb" stroke-width="3.2"/>
<line x1="472.58" y1="610.47" x2="472.58" y2="614.68" stroke="#b4b4fb" stroke-width="3.2"/>
<line x1="474.5" y1="585.86" x2="474.5" y2="591.56" stroke="#b4b4fb" stroke-width="3.2"/>
<line x1="475.33" y1="596.91" x2="475.33" y2="601.98" stroke="#b4b4fb" stroke-width="3.2"/>
<line x1="474.69" y1="604.31" x2="474.69" y2="609.46" stroke="#b4b4fb" stroke-width="3.2"/>
<line x1="477.62" y1="577.18" x2="477.62" y2="589.43" stroke="#b4b4fb" stroke-width="3.2"/>
<line x1="477.42" y1="577.04" x2="477.42" y2="589.27" stroke="#b4b4fb" stroke-width="3.2"/>
<line x1="477.67" y1="609.86" x2="477.67" y2="614.31" stroke="#b4b4fb" stroke-width="3.2"/>
<line x1="479.57" y1="607.98" x2="479.57" y2="614.21" stroke="#b4b4fb" stroke-width="3.2"/>
<line x1="480.07" y1="598.88" x2="480.07" y2="606.5" stroke="#b4b4fb" stroke-width="3.2"/>
<line x1="479.58" y1="609.25" x2="479.58" y2="614.33" stroke="#b4b4fb" stroke-width="3.2"/>
<line x1="482.37" y1="598.15" x2="482.37" y2="607.41" stroke="#b4b4fb" stroke-width="3.2"/>
<line x1="481.64" y1="610.38" x2="481.64" y2="615.17" stroke="#b4b4fb" stroke-width="3.2"/>
<line x1="481.73" y1="588.26" x2="481.73" y2="598.76" stroke="#b4b4fb" stroke-width="3.2"/>
<line x1="484.28" y1="609.31" x2="484.28" y2="614.61" stroke="#b4b4fb" stroke-width="3.2"/>
<line x1="484.63" y1="604.07" x2="484.63" y2="610.8" stroke="#b4b4fb" stroke-width="3.2"/>
<line x1="483.97" y1="597.94" x2="483.97" y2="605.28" stroke="#b4b4fb" stroke-width="3.2"/>
<line x1="487.5" y1="583.84" x2="487.5" y2="598.33" stroke="#b4b4fb" stroke-width="3.2"/>
<line x1="486.25" y1="609.08" x2="486.25" y2="614.47" stroke="#b4b4fb" stroke-width="3.2"/>
<line x1="486.11" y1="572.64" x2="486.11" y2="588.32" stroke="#b4b4fb" stroke-width="3.2"/>
<line x1="488.77" y1="610.16" x2="488.77" y2="612.61" stroke="#b4b4fb" stroke-width="3.2"/>
<line x1="488.54" y1="579.68" x2="488.54" y2="587.68" stroke="#b4b4fb" stroke-width="3.2"/>
<line x1="489.35" y1="591.56" x2="489.35" y2="600.15" stroke="#b4b4fb" stroke-width="3.2"/>
<line x1="491.72" y1="593.91" x2="491.72" y2="600.31" stroke="#b4b4fb" stroke-width="3.2"/>
<line x1="491.11" y1="608.09" x2="491.11" y2="611.59" stroke="#b4b4fb" stroke-width="3.2"/>
<line x1="491.57" y1="605.79" x2="491.57" y2="611.73" stroke="#b4b4fb" stroke-width="3.2"/>
<line x1="492.86" y1="608.17" x2="492.86" y2="613.46" stroke="#b4b4fb" stroke-width="3.2"/>
<line x1="493.13" y1="569.35" x2="493.13" y2="585.66" stroke="#b4b4fb" stroke-width="3.2"/>
<line x1="494.08" y1="568.19" x2="494.08" y2="584.65" stroke="#b4b4fb" stroke-width="3.2"/>
<line x1="495.46" y1="585.09" x2="495.46" y2="597.84" stroke="#b4b4fb" stroke-width="3.2"/>
<line x1="495.68" y1="592.49" x2="495.68" y2="601.55" stroke="#b4b4fb" stroke-width="3.2"/>
<line x1="494.82" y1="599.55" x2="494.82" y2="603.89" stroke="#b4b4fb" stroke-width="3.2"/>
<line x1="497.68" y1="595.99" x2="497.68" y2="600.94" stroke="#b4b4fb" stroke-width="3.2"/>
<line x1="498.84" y1="598.49" x2="498.84" y2="604.76" stroke="#b4b4fb" stroke-width="3.2"/>
<line x1="497.69" y1="603.07" x2="497.69" y2="607.76" stroke="#b4b4fb" stroke-width="3.2"/>
<line x1="501.26" y1="583.52" x2="501.26" y2="593.96" stroke="#b4b4fb" stroke-width="3.2"/>
<line x1="502.45" y1="593.67" x2="502.45" y2="604.76" stroke="#b4b4fb" stroke-width="3.2"/>
<line x1="503.04" y1="593.62" x2="503.04" y2="600.28" stroke="#b4b4fb" stroke-width="3.2"/>
<line x1="504.67" y1="566.75" x2="504.67" y2="575.24" stroke="#b4b4fb" stroke-width="3.2"/>
<line x1="505.45" y1="596.19" x2="505.45" y2="600.73" stroke="#b4b4fb" stroke-width="3.2"/>
<line x1="508.02" y1="567.1" x2="508.02" y2="576.19" stroke="#b4b4fb" stroke-width="3.2"/>
<line x1="508.04" y1="595.68" x2="508.04" y2="600.41" stroke="#b4b4fb" stroke-width="3.2"/>
<line x1="509.82" y1="592.76" x2="509.82" y2="601.33" stroke="#b4b4fb" stroke-width="3.2"/>
<line x1="511.16" y1="603.16" x2="511.16" y2="609.1" stroke="#b4b4fb" stroke-width="3.2"/>
<line x1="513.08" y1="563.78" x2="513.08" y2="576.91" stroke="#b4b4fb" stroke-width="3.2"/>
<line x1="512.86" y1="600.58" x2="512.86" y2="604.86" stroke="#b4b4fb" stroke-width="3.2"/>
<line x1="515.88" y1="599.42" x2="515.88" y2="603.57" stroke="#b4b4fb" stroke-width="3.2"/>
<line x1="515.36" y1="600.13" x2="515.36" y2="605.47" stroke="#b4b4fb" stroke-width="3.2"/>
<line x1="518.89" y1="564.74" x2="518.89" y2="582.06" stroke="#b4b4fb" stroke-width="3.2"/>
<line x1="518.66" y1="575.2" x2="518.66" y2="585.48" stroke="#b4b4fb" stroke-width="3.2"/>
<line x1="520.44" y1="603.69" x2="520.44" y2="607.11" stroke="#b4b4fb" stroke-width="3.2"/>
<line x1="521.21" y1="557.5" x2="521.21" y2="580.69" stroke="#b4b4fb" stroke-width="3.2"/>
<line x1="522.88" y1="597.57" x2="522.88" y2="605.91" stroke="#b4b4fb" stroke-width="3.2"/>
<line x1="525.44" y1="548.83" x2="525.44" y2="569.75" stroke="#b4b4fb" stroke-width="3.2"/>
<line x1="526.84" y1="589.01" x2="526.84" y2="594.7" stroke="#b4b4fb" stroke-width="3.2"/>
<line x1="528.43" y1="566.91" x2="528.43" y2="578.54" stroke="#b4b4fb" stroke-width="3.2"/>
<line x1="529.22" y1="543.45" x2="529.22" y2="569.73" stroke="#b4b4fb" stroke-width="3.2"/>
<line x1="531.76" y1="561.43" x2="531.76" y2="575.29" stroke="#b4b4fb" stroke-width="3.2"/>
<line x1="533.69" y1="595.38" x2="533.69" y2="602.38" stroke="#b4b4fb" stroke-width="3.2"/>
<line x1="533.95" y1="590.02" x2="533.95" y2="598.19" stroke="#b4b4fb" stroke-width="3.2"/>
<line x1="536.54" y1="573.69" x2="536.54" y2="589.93" stroke="#b4b4fb" stroke-width="3.2"/>
<line x1="536.41" y1="565.67" x2="536.41" y2="581.12" stroke="#b4b4fb" stroke-width="3.2"/>
<line x1="539.21" y1="596.22" x2="539.21" y2="605.21" stroke="#b4b4fb" stroke-width="3.2"/>
<line x1="541.79" y1="549.08" x2="541.79" y2="564.17" stroke="#b4b4fb" stroke-width="3.2"/>
<line x1="543.78" y1="594.26" x2="543.78" y2="603.44" stroke="#b4b4fb" stroke-width="3.2"/>
<line x1="545.02" y1="557.67" x2="545.02" y2="570.86" stroke="#b4b4fb" stroke-width="3.2"/>
<line x1="547.45" y1="563.03" x2="547.45" y2="584.54" stroke="#b4b4fb" stroke-width="3.2"/>
<line x1="551.25" y1="594.71" x2="551.25" y2="602.48" stroke="#b4b4fb" stroke-width="3.2"/>
<line x1="552.2" y1="545.89" x2="552.2" y2="565.66" stroke="#b4b4fb" stroke-width="3.2"/>
<line x1="556.51" y1="551.3" x2="556.51" y2="576.24" stroke="#b4b4fb" stroke-width="3.2"/>
<line x1="558.6" y1="592.63" x2="558.6" y2="600.35" stroke="#b4b4fb" stroke-width="3.2"/>
<line x1="559.82" y1="554.81" x2="559.82" y2="569.66" stroke="#b4b4fb" stroke-width="3.2"/>
<line x1="563.23" y1="568.33" x2="563.23" y2="585.11" stroke="#b4b4fb" stroke-width="3.2"/>
<line x1="565.56" y1="576.48" x2="565.56" y2="586.18" stroke="#b4b4fb" stroke-width="3.2"/>
<line x1="567.82" y1="573.57" x2="567.82" y2="591.17" stroke="#b4b4fb" stroke-width="3.2"/>
<line x1="570.59" y1="583.72" x2="570.59" y2="593.99" stroke="#b4b4fb" stroke-width="3.2"/>
<line x1="573.92" y1="590.62" x2="573.92" y2="597.87" stroke="#b4b4fb" stroke-width="3.2"/>
<line x1="576.32" y1="558.2" x2="576.32" y2="580.57" stroke="#b4b4fb" stroke-width="3.2"/>
<line x1="578.27" y1="538.36" x2="578.27" y2="567.49" stroke="#b4b4fb" stroke-width="3.2"/>
<line x1="581.2" y1="584.68" x2="581.2" y2="597.37" stroke="#b4b4fb" stroke-width="3.2"/>
<line x1="584.47" y1="573.85" x2="584.47" y2="584.44" stroke="#b4b4fb" stroke-width="3.2"/>
<line x1="467.8" y1="551.6" x2="467.8" y2="568.2" stroke="#b4b4fb" stroke-width="3.2"/>
<line x1="472.9" y1="548" x2="472.9" y2="568" stroke="#b4b4fb" stroke-width="3.2"/>
<line x1="480.3" y1="554.7" x2="480.3" y2="570.6" stroke="#b4b4fb" stroke-width="3.2"/>
<line x1="492" y1="538" x2="492" y2="560" stroke="#b4b4fb" stroke-width="3.2"/>
<line x1="492.5" y1="556" x2="492.5" y2="572" stroke="#b4b4fb" stroke-width="3.2"/>
<line x1="484.7" y1="566" x2="484.7" y2="580" stroke="#b4b4fb" stroke-width="3.2"/>
<line x1="477" y1="577" x2="477" y2="589" stroke="#b4b4fb" stroke-width="3.2"/>
<line x1="457.4" y1="581" x2="457.4" y2="593" stroke="#b4b4fb" stroke-width="3.2"/>
<line x1="532.3" y1="484.4" x2="532.3" y2="526" stroke="#b4b4fb" stroke-width="3.2"/>
<line x1="551.5" y1="492.6" x2="551.5" y2="524.1" stroke="#b4b4fb" stroke-width="3.2"/>
<line x1="518.1" y1="510.7" x2="518.1" y2="537.3" stroke="#b4b4fb" stroke-width="3.2"/>
<line x1="545.6" y1="504" x2="545.6" y2="533.5" stroke="#b4b4fb" stroke-width="3.2"/>
<line x1="491.2" y1="523" x2="491.2" y2="544.9" stroke="#b4b4fb" stroke-width="3.2"/>
<line x1="502.9" y1="546.8" x2="502.9" y2="560" stroke="#b4b4fb" stroke-width="3.2"/>
<line x1="545.9" y1="502.9" x2="545.9" y2="534.7" stroke="#b4b4fb" stroke-width="3.2"/>
<line x1="669.6" y1="486" x2="669.6" y2="530.4" stroke="#b4b4fb" stroke-width="3.2"/>
<line x1="672.9" y1="533.6" x2="672.9" y2="551.6" stroke="#b4b4fb" stroke-width="3.2"/>
<line x1="591.2" y1="506.1" x2="591.2" y2="534.7" stroke="#b4b4fb" stroke-width="3.2"/>
<line x1="601" y1="508.2" x2="601" y2="538.9" stroke="#b4b4fb" stroke-width="3.2"/>
<line x1="579.2" y1="522" x2="579.2" y2="547.4" stroke="#b4b4fb" stroke-width="3.2"/>
<line x1="621.5" y1="515.6" x2="621.5" y2="538.9" stroke="#b4b4fb" stroke-width="3.2"/>
<line x1="643.3" y1="517.7" x2="643.3" y2="551.6" stroke="#b4b4fb" stroke-width="3.2"/>
<line x1="651.8" y1="522" x2="651.8" y2="545.3" stroke="#b4b4fb" stroke-width="3.2"/>
<line x1="654.3" y1="545.3" x2="654.3" y2="560.7" stroke="#b4b4fb" stroke-width="3.2"/>
<line x1="665.8" y1="566.8" x2="665.8" y2="578.3" stroke="#b4b4fb" stroke-width="3.2"/>
<line x1="642.5" y1="574.5" x2="642.5" y2="586.7" stroke="#b4b4fb" stroke-width="3.2"/>
<line x1="646.7" y1="556" x2="646.7" y2="566.8" stroke="#b4b4fb" stroke-width="3.2"/>
<line x1="618.3" y1="577.5" x2="618.3" y2="588.2" stroke="#b4b4fb" stroke-width="3.2"/>
<line x1="629.4" y1="550" x2="629.4" y2="565.3" stroke="#b4b4fb" stroke-width="3.2"/>
<line x1="551.4" y1="492.8" x2="551.4" y2="523.8" stroke="#b4b4fb" stroke-width="3.2"/>
<line x1="545.6" y1="503.4" x2="545.6" y2="534.3" stroke="#b4b4fb" stroke-width="3.2"/>
<line x1="545.6" y1="543.6" x2="545.6" y2="556" stroke="#b4b4fb" stroke-width="3.2"/>
<line x1="560.4" y1="530.8" x2="560.4" y2="554.7" stroke="#b4b4fb" stroke-width="3.2"/>
<line x1="566.6" y1="526.7" x2="566.6" y2="550" stroke="#b4b4fb" stroke-width="3.2"/>
<line x1="579.7" y1="520.3" x2="579.7" y2="547.2" stroke="#b4b4fb" stroke-width="3.2"/>
<line x1="584.6" y1="526.7" x2="584.6" y2="548.9" stroke="#b4b4fb" stroke-width="3.2"/>
<line x1="591.2" y1="505.7" x2="591.2" y2="550" stroke="#b4b4fb" stroke-width="3.2"/>
<line x1="595.5" y1="522" x2="595.5" y2="557" stroke="#b4b4fb" stroke-width="3.2"/>
<line x1="600.7" y1="507.4" x2="600.7" y2="534.9" stroke="#b4b4fb" stroke-width="3.2"/>
<line x1="612.4" y1="530.2" x2="612.4" y2="547.2" stroke="#b4b4fb" stroke-width="3.2"/>
<line x1="618.8" y1="526.1" x2="618.8" y2="552" stroke="#b4b4fb" stroke-width="3.2"/>
<line x1="579.7" y1="548" x2="579.7" y2="565" stroke="#b4b4fb" stroke-width="3.2"/>
<circle cx="433.71" cy="613.63" r="2.9" fill="#5252b8"/>
<circle cx="432.94" cy="612.51" r="2.9" fill="#5252b8"/>
<circle cx="436.13" cy="614.11" r="2.9" fill="#5252b8"/>
<circle cx="435.71" cy="616.43" r="2.9" fill="#5252b8"/>
<circle cx="437.49" cy="615.94" r="2.9" fill="#5252b8"/>
<circle cx="437.63" cy="609.03" r="2.9" fill="#5252b8"/>
<circle cx="441" cy="610.2" r="2.9" fill="#5252b8"/>
<circle cx="439.97" cy="605.87" r="2.9" fill="#5252b8"/>
<circle cx="442.25" cy="616.32" r="2.9" fill="#5252b8"/>
<circle cx="442.22" cy="606.67" r="2.9" fill="#5252b8"/>
<circle cx="443.27" cy="608.61" r="2.9" fill="#5252b8"/>
<circle cx="444.69" cy="609.44" r="2.9" fill="#5252b8"/>
<circle cx="445.82" cy="601.78" r="2.9" fill="#5252b8"/>
<circle cx="447.07" cy="609.83" r="2.9" fill="#5252b8"/>
<circle cx="446.96" cy="604.24" r="2.9" fill="#5252b8"/>
<circle cx="449.46" cy="613.01" r="2.9" fill="#5252b8"/>
<circle cx="450.77" cy="615.14" r="2.9" fill="#5252b8"/>
<circle cx="452.27" cy="607.19" r="2.9" fill="#5252b8"/>
<circle cx="451.59" cy="615.88" r="2.9" fill="#5252b8"/>
<circle cx="452.71" cy="601.14" r="2.9" fill="#5252b8"/>
<circle cx="454.46" cy="615.36" r="2.9" fill="#5252b8"/>
<circle cx="455.82" cy="612.71" r="2.9" fill="#5252b8"/>
<circle cx="455" cy="595.74" r="2.9" fill="#5252b8"/>
<circle cx="457.3" cy="610.26" r="2.9" fill="#5252b8"/>
<circle cx="460.44" cy="615.36" r="2.9" fill="#5252b8"/>
<circle cx="460.43" cy="610.79" r="2.9" fill="#5252b8"/>
<circle cx="459.77" cy="603.02" r="2.9" fill="#5252b8"/>
<circle cx="461.86" cy="598.96" r="2.9" fill="#5252b8"/>
<circle cx="462.26" cy="604.73" r="2.9" fill="#5252b8"/>
<circle cx="465.61" cy="609.98" r="2.9" fill="#5252b8"/>
<circle cx="465.05" cy="590.41" r="2.9" fill="#5252b8"/>
<circle cx="465.72" cy="613.58" r="2.9" fill="#5252b8"/>
<circle cx="467.76" cy="596.8" r="2.9" fill="#5252b8"/>
<circle cx="467.65" cy="613.3" r="2.9" fill="#5252b8"/>
<circle cx="466.68" cy="599.83" r="2.9" fill="#5252b8"/>
<circle cx="469.44" cy="601.47" r="2.9" fill="#5252b8"/>
<circle cx="469.72" cy="607.56" r="2.9" fill="#5252b8"/>
<circle cx="472.7" cy="606.58" r="2.9" fill="#5252b8"/>
<circle cx="472.58" cy="612.81" r="2.9" fill="#5252b8"/>
<circle cx="474.5" cy="589.03" r="2.9" fill="#5252b8"/>
<circle cx="475.33" cy="599.73" r="2.9" fill="#5252b8"/>
<circle cx="474.69" cy="607.18" r="2.9" fill="#5252b8"/>
<circle cx="477.62" cy="583.99" r="2.9" fill="#5252b8"/>
<circle cx="477.42" cy="583.84" r="2.9" fill="#5252b8"/>
<circle cx="477.67" cy="612.33" r="2.9" fill="#5252b8"/>
<circle cx="479.57" cy="611.44" r="2.9" fill="#5252b8"/>
<circle cx="480.07" cy="603.11" r="2.9" fill="#5252b8"/>
<circle cx="479.58" cy="612.07" r="2.9" fill="#5252b8"/>
<circle cx="482.37" cy="603.29" r="2.9" fill="#5252b8"/>
<circle cx="481.64" cy="613.04" r="2.9" fill="#5252b8"/>
<circle cx="481.73" cy="594.1" r="2.9" fill="#5252b8"/>
<circle cx="484.28" cy="612.25" r="2.9" fill="#5252b8"/>
<circle cx="484.63" cy="607.81" r="2.9" fill="#5252b8"/>
<circle cx="483.97" cy="602.02" r="2.9" fill="#5252b8"/>
<circle cx="487.5" cy="591.89" r="2.9" fill="#5252b8"/>
<circle cx="486.25" cy="612.08" r="2.9" fill="#5252b8"/>
<circle cx="486.11" cy="581.35" r="2.9" fill="#5252b8"/>
<circle cx="488.77" cy="611.52" r="2.9" fill="#5252b8"/>
<circle cx="488.54" cy="584.13" r="2.9" fill="#5252b8"/>
<circle cx="489.35" cy="596.34" r="2.9" fill="#5252b8"/>
<circle cx="491.72" cy="597.46" r="2.9" fill="#5252b8"/>
<circle cx="491.11" cy="610.03" r="2.9" fill="#5252b8"/>
<circle cx="491.57" cy="609.09" r="2.9" fill="#5252b8"/>
<circle cx="492.86" cy="611.11" r="2.9" fill="#5252b8"/>
<circle cx="493.13" cy="578.41" r="2.9" fill="#5252b8"/>
<circle cx="494.08" cy="577.33" r="2.9" fill="#5252b8"/>
<circle cx="495.46" cy="592.17" r="2.9" fill="#5252b8"/>
<circle cx="495.68" cy="597.53" r="2.9" fill="#5252b8"/>
<circle cx="494.82" cy="601.96" r="2.9" fill="#5252b8"/>
<circle cx="497.68" cy="598.74" r="2.9" fill="#5252b8"/>
<circle cx="498.84" cy="601.97" r="2.9" fill="#5252b8"/>
<circle cx="497.69" cy="605.67" r="2.9" fill="#5252b8"/>
<circle cx="501.26" cy="589.32" r="2.9" fill="#5252b8"/>
<circle cx="502.45" cy="599.83" r="2.9" fill="#5252b8"/>
<circle cx="503.04" cy="597.32" r="2.9" fill="#5252b8"/>
<circle cx="504.67" cy="571.47" r="2.9" fill="#5252b8"/>
<circle cx="505.45" cy="598.71" r="2.9" fill="#5252b8"/>
<circle cx="508.02" cy="572.15" r="2.9" fill="#5252b8"/>
<circle cx="508.04" cy="598.31" r="2.9" fill="#5252b8"/>
<circle cx="509.82" cy="597.52" r="2.9" fill="#5252b8"/>
<circle cx="511.16" cy="606.46" r="2.9" fill="#5252b8"/>
<circle cx="513.08" cy="571.07" r="2.9" fill="#5252b8"/>
<circle cx="512.86" cy="602.96" r="2.9" fill="#5252b8"/>
<circle cx="515.88" cy="601.73" r="2.9" fill="#5252b8"/>
<circle cx="515.36" cy="603.1" r="2.9" fill="#5252b8"/>
<circle cx="518.89" cy="574.36" r="2.9" fill="#5252b8"/>
<circle cx="518.66" cy="580.91" r="2.9" fill="#5252b8"/>
<circle cx="520.44" cy="605.59" r="2.9" fill="#5252b8"/>
<circle cx="521.21" cy="570.39" r="2.9" fill="#5252b8"/>
<circle cx="522.88" cy="602.21" r="2.9" fill="#5252b8"/>
<circle cx="525.44" cy="560.45" r="2.9" fill="#5252b8"/>
<circle cx="526.84" cy="592.17" r="2.9" fill="#5252b8"/>
<circle cx="528.43" cy="573.37" r="2.9" fill="#5252b8"/>
<circle cx="529.22" cy="558.05" r="2.9" fill="#5252b8"/>
<circle cx="531.76" cy="569.13" r="2.9" fill="#5252b8"/>
<circle cx="533.69" cy="599.27" r="2.9" fill="#5252b8"/>
<circle cx="533.95" cy="594.56" r="2.9" fill="#5252b8"/>
<circle cx="536.54" cy="582.71" r="2.9" fill="#5252b8"/>
<circle cx="536.41" cy="574.25" r="2.9" fill="#5252b8"/>
<circle cx="539.21" cy="601.22" r="2.9" fill="#5252b8"/>
<circle cx="541.79" cy="557.46" r="2.9" fill="#5252b8"/>
<circle cx="543.78" cy="599.36" r="2.9" fill="#5252b8"/>
<circle cx="545.02" cy="565" r="2.9" fill="#5252b8"/>
<circle cx="547.45" cy="574.98" r="2.9" fill="#5252b8"/>
<circle cx="551.25" cy="599.03" r="2.9" fill="#5252b8"/>
<circle cx="552.2" cy="556.87" r="2.9" fill="#5252b8"/>
<circle cx="556.51" cy="565.16" r="2.9" fill="#5252b8"/>
<circle cx="558.6" cy="596.92" r="2.9" fill="#5252b8"/>
<circle cx="559.82" cy="563.06" r="2.9" fill="#5252b8"/>
<circle cx="563.23" cy="577.65" r="2.9" fill="#5252b8"/>
<circle cx="565.56" cy="581.87" r="2.9" fill="#5252b8"/>
<circle cx="567.82" cy="583.35" r="2.9" fill="#5252b8"/>
<circle cx="570.59" cy="589.42" r="2.9" fill="#5252b8"/>
<circle cx="573.92" cy="594.65" r="2.9" fill="#5252b8"/>
<circle cx="576.32" cy="570.63" r="2.9" fill="#5252b8"/>
<circle cx="578.27" cy="554.54" r="2.9" fill="#5252b8"/>
<circle cx="581.2" cy="591.73" r="2.9" fill="#5252b8"/>
<circle cx="584.47" cy="579.74" r="2.9" fill="#5252b8"/>
<circle cx="467.8" cy="559.6" r="2.9" fill="#5252b8"/>
<circle cx="472.9" cy="558.4" r="2.9" fill="#5252b8"/>
<circle cx="480.3" cy="563.9" r="2.9" fill="#5252b8"/>
<circle cx="492" cy="551" r="2.9" fill="#5252b8"/>
<circle cx="492.3" cy="554.1" r="2.9" fill="#5252b8"/>
<circle cx="492.5" cy="564.5" r="2.9" fill="#5252b8"/>
<circle cx="484.7" cy="573.1" r="2.9" fill="#5252b8"/>
<circle cx="477" cy="583.5" r="2.9" fill="#5252b8"/>
<circle cx="477" cy="590.2" r="2.9" fill="#5252b8"/>
<circle cx="457.4" cy="587.2" r="2.9" fill="#5252b8"/>
<circle cx="464.1" cy="592.9" r="2.9" fill="#5252b8"/>
<circle cx="454.3" cy="592.7" r="2.9" fill="#5252b8"/>
<circle cx="469" cy="598.2" r="2.9" fill="#5252b8"/>
<circle cx="488" cy="582.3" r="2.9" fill="#5252b8"/>
<circle cx="492.3" cy="584.7" r="2.9" fill="#5252b8"/>
<circle cx="483.7" cy="586.6" r="2.9" fill="#5252b8"/>
<circle cx="532.3" cy="508.3" r="2.9" fill="#5252b8"/>
<circle cx="551.5" cy="508.3" r="2.9" fill="#5252b8"/>
<circle cx="518.1" cy="525" r="2.9" fill="#5252b8"/>
<circle cx="545.6" cy="523.1" r="2.9" fill="#5252b8"/>
<circle cx="491.2" cy="532.6" r="2.9" fill="#5252b8"/>
<circle cx="493" cy="537.3" r="2.9" fill="#5252b8"/>
<circle cx="491.7" cy="551" r="2.9" fill="#5252b8"/>
<circle cx="491.7" cy="554.4" r="2.9" fill="#5252b8"/>
<circle cx="502.9" cy="554" r="2.9" fill="#5252b8"/>
<circle cx="532" cy="533.5" r="2.9" fill="#5252b8"/>
<circle cx="532" cy="548.7" r="2.9" fill="#5252b8"/>
<circle cx="533.9" cy="532" r="2.9" fill="#5252b8"/>
<circle cx="524" cy="549.6" r="2.9" fill="#5252b8"/>
<circle cx="545.6" cy="550.6" r="2.9" fill="#5252b8"/>
<circle cx="545.9" cy="523" r="2.9" fill="#5252b8"/>
<circle cx="545.9" cy="550.5" r="2.9" fill="#5252b8"/>
<circle cx="669.6" cy="511.8" r="2.9" fill="#5252b8"/>
<circle cx="672.9" cy="544.6" r="2.9" fill="#5252b8"/>
<circle cx="591.2" cy="517.3" r="2.9" fill="#5252b8"/>
<circle cx="601" cy="522" r="2.9" fill="#5252b8"/>
<circle cx="595.5" cy="531.5" r="2.9" fill="#5252b8"/>
<circle cx="591.2" cy="541" r="2.9" fill="#5252b8"/>
<circle cx="579.2" cy="533.6" r="2.9" fill="#5252b8"/>
<circle cx="584.5" cy="540.4" r="2.9" fill="#5252b8"/>
<circle cx="560.1" cy="542.1" r="2.9" fill="#5252b8"/>
<circle cx="565.4" cy="538.9" r="2.9" fill="#5252b8"/>
<circle cx="561.2" cy="549.5" r="2.9" fill="#5252b8"/>
<circle cx="565.4" cy="546.3" r="2.9" fill="#5252b8"/>
<circle cx="570.7" cy="547.4" r="2.9" fill="#5252b8"/>
<circle cx="562.2" cy="555.8" r="2.9" fill="#5252b8"/>
<circle cx="568.6" cy="555.8" r="2.9" fill="#5252b8"/>
<circle cx="594.6" cy="551.6" r="2.9" fill="#5252b8"/>
<circle cx="596.1" cy="549.5" r="2.9" fill="#5252b8"/>
<circle cx="613" cy="537.8" r="2.9" fill="#5252b8"/>
<circle cx="621.5" cy="528.3" r="2.9" fill="#5252b8"/>
<circle cx="618.7" cy="542.1" r="2.9" fill="#5252b8"/>
<circle cx="624.7" cy="541" r="2.9" fill="#5252b8"/>
<circle cx="628.5" cy="533.6" r="2.9" fill="#5252b8"/>
<circle cx="631.4" cy="541" r="2.9" fill="#5252b8"/>
<circle cx="617.9" cy="549.9" r="2.9" fill="#5252b8"/>
<circle cx="643.3" cy="531.1" r="2.9" fill="#5252b8"/>
<circle cx="643.3" cy="539.5" r="2.9" fill="#5252b8"/>
<circle cx="651.8" cy="534.2" r="2.9" fill="#5252b8"/>
<circle cx="654.3" cy="551.2" r="2.9" fill="#5252b8"/>
<circle cx="629.3" cy="558" r="2.9" fill="#5252b8"/>
<circle cx="646.9" cy="560" r="2.9" fill="#5252b8"/>
<circle cx="665.8" cy="571.7" r="2.9" fill="#5252b8"/>
<circle cx="642.5" cy="580.3" r="2.9" fill="#5252b8"/>
<circle cx="646.7" cy="561.4" r="2.9" fill="#5252b8"/>
<circle cx="598.7" cy="597.1" r="2.9" fill="#5252b8"/>
<circle cx="618.3" cy="583.3" r="2.9" fill="#5252b8"/>
<circle cx="622.6" cy="571.1" r="2.9" fill="#5252b8"/>
<circle cx="629.4" cy="558.4" r="2.9" fill="#5252b8"/>
<circle cx="617.6" cy="549.9" r="2.9" fill="#5252b8"/>
<circle cx="583.8" cy="586.7" r="2.9" fill="#5252b8"/>
<circle cx="581.5" cy="586.7" r="2.9" fill="#5252b8"/>
<circle cx="581.5" cy="579" r="2.9" fill="#5252b8"/>
<circle cx="583.8" cy="561.4" r="2.9" fill="#5252b8"/>
<circle cx="595.3" cy="552.2" r="2.9" fill="#5252b8"/>
<circle cx="596.9" cy="549.9" r="2.9" fill="#5252b8"/>
<circle cx="584.6" cy="540" r="2.9" fill="#5252b8"/>
<circle cx="591.5" cy="540.7" r="2.9" fill="#5252b8"/>
<circle cx="595.3" cy="531.5" r="2.9" fill="#5252b8"/>
<circle cx="612.5" cy="538" r="2.9" fill="#5252b8"/>
<circle cx="619.5" cy="542.3" r="2.9" fill="#5252b8"/>
<circle cx="624.8" cy="540.7" r="2.9" fill="#5252b8"/>
<circle cx="632.1" cy="540.7" r="2.9" fill="#5252b8"/>
<circle cx="628.7" cy="533.4" r="2.9" fill="#5252b8"/>
<circle cx="643.2" cy="539.5" r="2.9" fill="#5252b8"/>
<circle cx="643.6" cy="531.5" r="2.9" fill="#5252b8"/>
<circle cx="651.3" cy="533.8" r="2.9" fill="#5252b8"/>
<circle cx="551.4" cy="508" r="2.9" fill="#5252b8"/>
<circle cx="545.6" cy="523" r="2.9" fill="#5252b8"/>
<circle cx="545.6" cy="550.7" r="2.9" fill="#5252b8"/>
<circle cx="560.4" cy="541.9" r="2.9" fill="#5252b8"/>
<circle cx="566.6" cy="539" r="2.9" fill="#5252b8"/>
<circle cx="566" cy="546.6" r="2.9" fill="#5252b8"/>
<circle cx="569" cy="546.6" r="2.9" fill="#5252b8"/>
<circle cx="571.5" cy="547" r="2.9" fill="#5252b8"/>
<circle cx="561.9" cy="550.7" r="2.9" fill="#5252b8"/>
<circle cx="562" cy="554.7" r="2.9" fill="#5252b8"/>
<circle cx="569" cy="556.5" r="2.9" fill="#5252b8"/>
<circle cx="579.7" cy="533.5" r="2.9" fill="#5252b8"/>
<circle cx="584.6" cy="540.5" r="2.9" fill="#5252b8"/>
<circle cx="591.2" cy="517.4" r="2.9" fill="#5252b8"/>
<circle cx="591.2" cy="540.7" r="2.9" fill="#5252b8"/>
<circle cx="595.5" cy="531.4" r="2.9" fill="#5252b8"/>
<circle cx="596" cy="550" r="2.9" fill="#5252b8"/>
<circle cx="595.5" cy="551.8" r="2.9" fill="#5252b8"/>
<circle cx="600.7" cy="522" r="2.9" fill="#5252b8"/>
<circle cx="612.4" cy="538.2" r="2.9" fill="#5252b8"/>
<circle cx="618.8" cy="542.5" r="2.9" fill="#5252b8"/>
<circle cx="618.8" cy="550" r="2.9" fill="#5252b8"/>
<circle cx="579.7" cy="555" r="2.9" fill="#5252b8"/>
<rect x="415.8" y="42.7" width="268.6" height="225.1" fill="none" stroke="#000" stroke-width="1.3"/>
<line x1="408.2" y1="259.8" x2="415.8" y2="259.8" stroke="#000" stroke-width="1.3" stroke-linecap="butt"/>
<line x1="408.2" y1="218" x2="415.8" y2="218" stroke="#000" stroke-width="1.3" stroke-linecap="butt"/>
<line x1="408.2" y1="176.2" x2="415.8" y2="176.2" stroke="#000" stroke-width="1.3" stroke-linecap="butt"/>
<line x1="408.2" y1="134.4" x2="415.8" y2="134.4" stroke="#000" stroke-width="1.3" stroke-linecap="butt"/>
<line x1="408.2" y1="92.6" x2="415.8" y2="92.6" stroke="#000" stroke-width="1.3" stroke-linecap="butt"/>
<line x1="408.2" y1="50.8" x2="415.8" y2="50.8" stroke="#000" stroke-width="1.3" stroke-linecap="butt"/>
<line x1="425.7" y1="267.8" x2="425.7" y2="275.6" stroke="#000" stroke-width="1.3" stroke-linecap="butt"/>
<line x1="508.72" y1="267.8" x2="508.72" y2="275.6" stroke="#000" stroke-width="1.3" stroke-linecap="butt"/>
<line x1="591.74" y1="267.8" x2="591.74" y2="275.6" stroke="#000" stroke-width="1.3" stroke-linecap="butt"/>
<line x1="674.76" y1="267.8" x2="674.76" y2="275.6" stroke="#000" stroke-width="1.3" stroke-linecap="butt"/>
<text x="399.5" y="259.8" font-size="20" text-anchor="middle" font-weight="normal" fill="#000" transform="rotate(-90 399.5 259.8)" stroke="#000" stroke-width="0.3">0</text>
<text x="399.5" y="218" font-size="20" text-anchor="middle" font-weight="normal" fill="#000" transform="rotate(-90 399.5 218)" stroke="#000" stroke-width="0.3">5</text>
<text x="399.5" y="176.2" font-size="20" text-anchor="middle" font-weight="normal" fill="#000" transform="rotate(-90 399.5 176.2)" stroke="#000" stroke-width="0.3">10</text>
<text x="399.5" y="134.4" font-size="20" text-anchor="middle" font-weight="normal" fill="#000" transform="rotate(-90 399.5 134.4)" stroke="#000" stroke-width="0.3">15</text>
<text x="399.5" y="92.6" font-size="20" text-anchor="middle" font-weight="normal" fill="#000" transform="rotate(-90 399.5 92.6)" stroke="#000" stroke-width="0.3">20</text>
<text x="399.5" y="50.8" font-size="20" text-anchor="middle" font-weight="normal" fill="#000" transform="rotate(-90 399.5 50.8)" stroke="#000" stroke-width="0.3">25</text>
<text x="421.8" y="298.2" font-size="20" text-anchor="middle" font-weight="normal" fill="#000" stroke="#000" stroke-width="0.3">1</text>
<text x="504.82" y="298.2" font-size="20" text-anchor="middle" font-weight="normal" fill="#000" stroke="#000" stroke-width="0.3">1.2</text>
<text x="587.84" y="298.2" font-size="20" text-anchor="middle" font-weight="normal" fill="#000" stroke="#000" stroke-width="0.3">1.4</text>
<text x="670.86" y="298.2" font-size="20" text-anchor="middle" font-weight="normal" fill="#000" stroke="#000" stroke-width="0.3">1.6</text>
<text x="371.9" y="155.05" font-size="20" text-anchor="middle" font-weight="normal" fill="#000" transform="rotate(-90 371.9 155.05)" stroke="#000" stroke-width="0.3">Establishment period</text>
<text x="480" y="323.8" font-size="20" stroke="#000" stroke-width="0.3">Spatial factor<tspan font-size="10.5" dx="0.6" dy="-6.8">1/3</tspan></text>
<text x="358.7" y="15.8" font-size="24" letter-spacing="0.7" stroke="#000" stroke-width="0.3">(b)</text>
<rect x="53.5" y="408.8" width="269" height="225.8" fill="none" stroke="#000" stroke-width="1.3"/>
<line x1="45.9" y1="626" x2="53.5" y2="626" stroke="#000" stroke-width="1.3" stroke-linecap="butt"/>
<line x1="45.9" y1="584.24" x2="53.5" y2="584.24" stroke="#000" stroke-width="1.3" stroke-linecap="butt"/>
<line x1="45.9" y1="542.48" x2="53.5" y2="542.48" stroke="#000" stroke-width="1.3" stroke-linecap="butt"/>
<line x1="45.9" y1="500.72" x2="53.5" y2="500.72" stroke="#000" stroke-width="1.3" stroke-linecap="butt"/>
<line x1="45.9" y1="458.96" x2="53.5" y2="458.96" stroke="#000" stroke-width="1.3" stroke-linecap="butt"/>
<line x1="45.9" y1="417.2" x2="53.5" y2="417.2" stroke="#000" stroke-width="1.3" stroke-linecap="butt"/>
<line x1="63.3" y1="634.6" x2="63.3" y2="642.4" stroke="#000" stroke-width="1.3" stroke-linecap="butt"/>
<line x1="146.34" y1="634.6" x2="146.34" y2="642.4" stroke="#000" stroke-width="1.3" stroke-linecap="butt"/>
<line x1="229.38" y1="634.6" x2="229.38" y2="642.4" stroke="#000" stroke-width="1.3" stroke-linecap="butt"/>
<line x1="312.42" y1="634.6" x2="312.42" y2="642.4" stroke="#000" stroke-width="1.3" stroke-linecap="butt"/>
<text x="42" y="626" font-size="20" text-anchor="middle" font-weight="normal" fill="#000" transform="rotate(-90 42 626)" stroke="#000" stroke-width="0.3">0</text>
<text x="42" y="584.24" font-size="20" text-anchor="middle" font-weight="normal" fill="#000" transform="rotate(-90 42 584.24)" stroke="#000" stroke-width="0.3">20</text>
<text x="42" y="542.48" font-size="20" text-anchor="middle" font-weight="normal" fill="#000" transform="rotate(-90 42 542.48)" stroke="#000" stroke-width="0.3">40</text>
<text x="42" y="500.72" font-size="20" text-anchor="middle" font-weight="normal" fill="#000" transform="rotate(-90 42 500.72)" stroke="#000" stroke-width="0.3">60</text>
<text x="42" y="458.96" font-size="20" text-anchor="middle" font-weight="normal" fill="#000" transform="rotate(-90 42 458.96)" stroke="#000" stroke-width="0.3">80</text>
<text x="42" y="417.2" font-size="20" text-anchor="middle" font-weight="normal" fill="#000" transform="rotate(-90 42 417.2)" stroke="#000" stroke-width="0.3">100</text>
<text x="64.5" y="665" font-size="20" text-anchor="middle" font-weight="normal" fill="#000" stroke="#000" stroke-width="0.3">1</text>
<text x="147.54" y="665" font-size="20" text-anchor="middle" font-weight="normal" fill="#000" stroke="#000" stroke-width="0.3">1.2</text>
<text x="230.58" y="665" font-size="20" text-anchor="middle" font-weight="normal" fill="#000" stroke="#000" stroke-width="0.3">1.4</text>
<text x="313.62" y="665" font-size="20" text-anchor="middle" font-weight="normal" fill="#000" stroke="#000" stroke-width="0.3">1.6</text>
<text x="14.3" y="524.6" font-size="20" text-anchor="middle" font-weight="normal" fill="#000" transform="rotate(-90 14.3 524.6)" stroke="#000" stroke-width="0.3">Expansion period</text>
<text x="122.9" y="690.6" font-size="20" stroke="#000" stroke-width="0.3">Spatial factor<tspan font-size="10.5" dx="0.6" dy="-6.8">1/3</tspan></text>
<text x="1.4" y="382.8" font-size="24" letter-spacing="0.7" stroke="#000" stroke-width="0.3">(c)</text>
<rect x="415.8" y="408.8" width="268.6" height="225.8" fill="none" stroke="#000" stroke-width="1.3"/>
<line x1="408.2" y1="626" x2="415.8" y2="626" stroke="#000" stroke-width="1.3" stroke-linecap="butt"/>
<line x1="408.2" y1="576.3" x2="415.8" y2="576.3" stroke="#000" stroke-width="1.3" stroke-linecap="butt"/>
<line x1="408.2" y1="526.6" x2="415.8" y2="526.6" stroke="#000" stroke-width="1.3" stroke-linecap="butt"/>
<line x1="408.2" y1="476.9" x2="415.8" y2="476.9" stroke="#000" stroke-width="1.3" stroke-linecap="butt"/>
<line x1="408.2" y1="427.2" x2="415.8" y2="427.2" stroke="#000" stroke-width="1.3" stroke-linecap="butt"/>
<line x1="425.7" y1="634.6" x2="425.7" y2="642.4" stroke="#000" stroke-width="1.3" stroke-linecap="butt"/>
<line x1="508.72" y1="634.6" x2="508.72" y2="642.4" stroke="#000" stroke-width="1.3" stroke-linecap="butt"/>
<line x1="591.74" y1="634.6" x2="591.74" y2="642.4" stroke="#000" stroke-width="1.3" stroke-linecap="butt"/>
<line x1="674.76" y1="634.6" x2="674.76" y2="642.4" stroke="#000" stroke-width="1.3" stroke-linecap="butt"/>
<text x="399.3" y="626" font-size="20" text-anchor="middle" font-weight="normal" fill="#000" transform="rotate(-90 399.3 626)" stroke="#000" stroke-width="0.3">0</text>
<text x="399.3" y="576.3" font-size="20" text-anchor="middle" font-weight="normal" fill="#000" transform="rotate(-90 399.3 576.3)" stroke="#000" stroke-width="0.3">50</text>
<text x="399.3" y="526.6" font-size="20" text-anchor="middle" font-weight="normal" fill="#000" transform="rotate(-90 399.3 526.6)" stroke="#000" stroke-width="0.3">100</text>
<text x="399.3" y="476.9" font-size="20" text-anchor="middle" font-weight="normal" fill="#000" transform="rotate(-90 399.3 476.9)" stroke="#000" stroke-width="0.3">150</text>
<text x="399.3" y="427.2" font-size="20" text-anchor="middle" font-weight="normal" fill="#000" transform="rotate(-90 399.3 427.2)" stroke="#000" stroke-width="0.3">200</text>
<text x="421.8" y="665" font-size="20" text-anchor="middle" font-weight="normal" fill="#000" stroke="#000" stroke-width="0.3">1</text>
<text x="504.82" y="665" font-size="20" text-anchor="middle" font-weight="normal" fill="#000" stroke="#000" stroke-width="0.3">1.2</text>
<text x="587.84" y="665" font-size="20" text-anchor="middle" font-weight="normal" fill="#000" stroke="#000" stroke-width="0.3">1.4</text>
<text x="670.86" y="665" font-size="20" text-anchor="middle" font-weight="normal" fill="#000" stroke="#000" stroke-width="0.3">1.6</text>
<text x="372" y="521.5" font-size="20" text-anchor="middle" font-weight="normal" fill="#000" transform="rotate(-90 372 521.5)" stroke="#000" stroke-width="0.3">Naturalization period</text>
<text x="480.3" y="690.6" font-size="20" stroke="#000" stroke-width="0.3">Spatial factor<tspan font-size="10.5" dx="0.6" dy="-6.8">1/3</tspan></text>
<text x="358.4" y="382.8" font-size="24" letter-spacing="0.7" stroke="#000" stroke-width="0.3">(d)</text></svg></body></html>
